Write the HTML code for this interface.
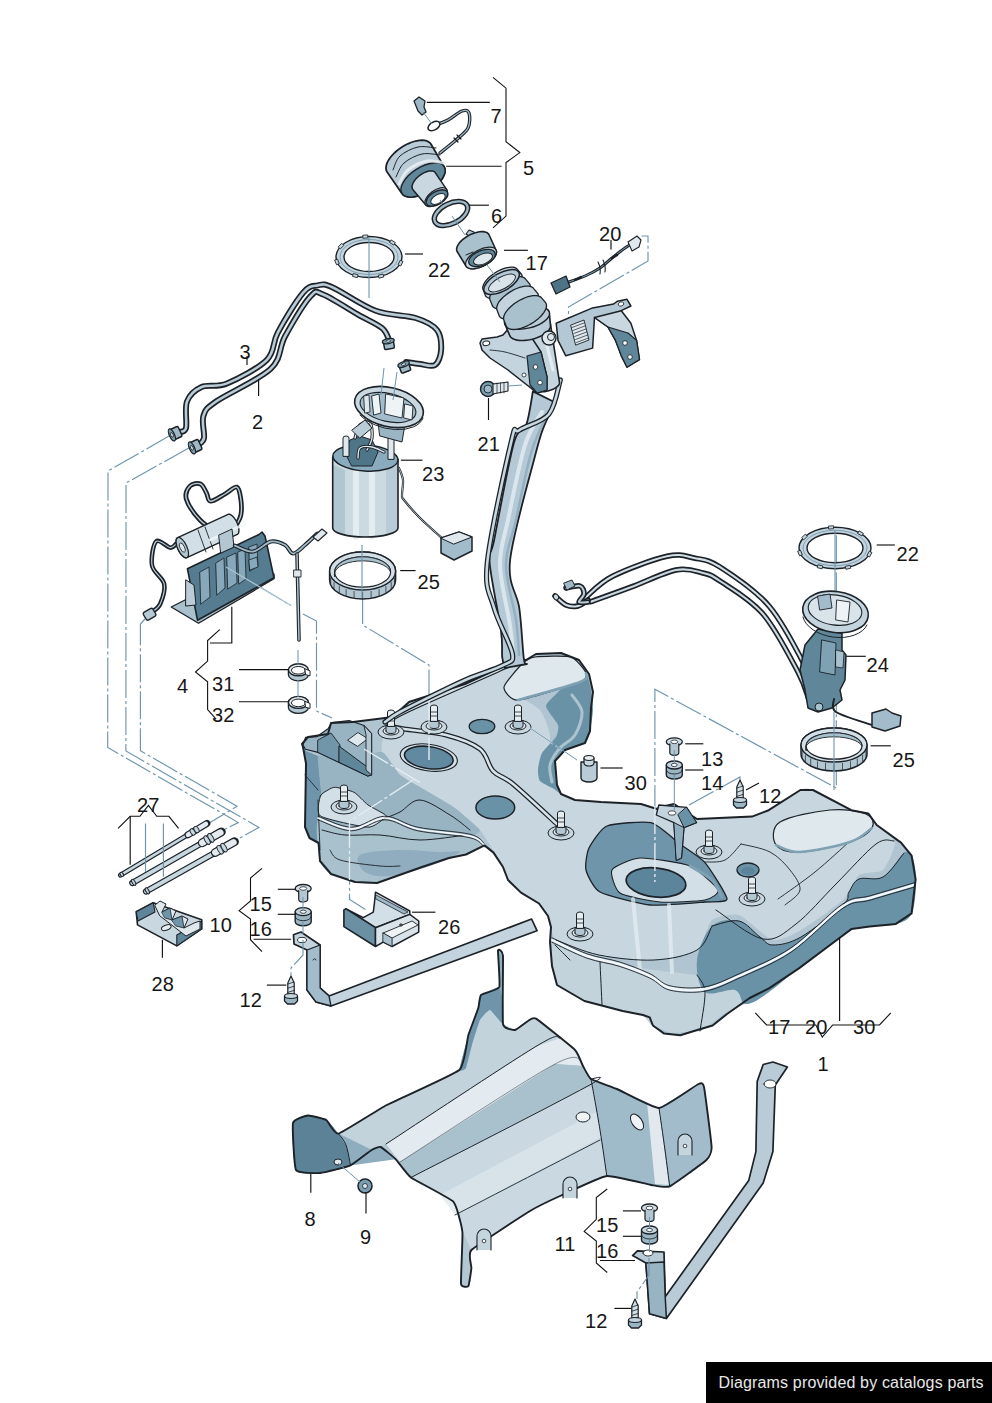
<!DOCTYPE html>
<html><head><meta charset="utf-8"><style>
html,body{margin:0;padding:0;background:#fff;}
body{width:992px;height:1403px;overflow:hidden;position:relative;}
svg{position:absolute;left:0;top:0;}
text{font-family:"Liberation Sans",sans-serif;fill:#161616;}
.foot{position:absolute;left:706px;top:1362px;width:286px;height:41px;background:#000;color:#e8e8e8;font-family:"Liberation Sans",sans-serif;font-size:16px;line-height:41px;text-indent:12.5px;letter-spacing:0.16px;white-space:nowrap;}
</style></head><body>
<svg width="992" height="1403" viewBox="0 0 992 1403">
<polyline points="170.8,435.0 108.0,471.0 107.7,747.5 238.3,822.6 222.0,830.7" fill="none" stroke="#6d95ab" stroke-width="1.15" stroke-dasharray="28 3 3 3"/>
<polyline points="188.8,448.0 126.0,483.0 125.9,751.0 258.9,827.5 234.8,840.7" fill="none" stroke="#6d95ab" stroke-width="1.15" stroke-dasharray="28 3 3 3"/>
<polyline points="145.0,619.0 140.4,624.0 140.4,750.7 237.1,806.3 208.4,823.5" fill="none" stroke="#6d95ab" stroke-width="1.15" stroke-dasharray="28 3 3 3"/>
<polyline points="226.0,567.0 291.0,605.5" fill="none" stroke="#6d95ab" stroke-width="1.15" stroke-dasharray="28 3 3 3"/>
<polyline points="303.0,614.0 316.5,621.0 316.5,711.0 332.0,718.0" fill="none" stroke="#6d95ab" stroke-width="1.15" stroke-dasharray="28 3 3 3"/>
<polyline points="362.6,596.0 362.6,625.0 429.0,665.0 429.0,760.0" fill="none" stroke="#6d95ab" stroke-width="1.15" stroke-dasharray="28 3 3 3"/>
<polyline points="568.5,345.0 568.5,307.0 648.0,261.0 648.0,236.0 641.6,236.0" fill="none" stroke="#6d95ab" stroke-width="1.15" stroke-dasharray="28 3 3 3"/>
<polyline points="654.9,850.0 654.9,689.3 836.3,788.1 836.3,532.0" fill="none" stroke="#6d95ab" stroke-width="1.15" stroke-dasharray="28 3 3 3"/>
<polyline points="364.0,749.0 420.0,782.6" fill="none" stroke="#6d95ab" stroke-width="1.15" stroke-dasharray="28 3 3 3"/>
<polyline points="413.0,780.0 349.5,821.6 349.5,899.4 365.5,909.4" fill="none" stroke="#6d95ab" stroke-width="1.15" stroke-dasharray="28 3 3 3"/>
<polyline points="689.0,805.0 740.0,777.0 740.0,782.0" fill="none" stroke="#6d95ab" stroke-width="1.15" stroke-dasharray="28 3 3 3"/>
<path d="M302.0 744.0 L308.0 737.0 L328.0 734.0 L331.0 723.0 L353.0 722.0 L393.0 717.0 L409.0 702.0 L465.0 684.0 L506.0 665.0 L526.0 660.0 L536.0 654.0 L561.0 653.0 L579.0 660.0 L589.0 674.0 L593.0 692.0 L591.0 708.0 L590.0 731.0 L585.0 743.0 L565.0 750.0 L555.0 761.0 L557.0 785.0 L561.0 794.0 L575.0 800.0 L601.0 802.0 L641.0 804.0 L657.0 809.0 L661.0 807.0 L674.0 804.0 L697.0 819.0 L752.0 816.6 L768.7 810.2 L800.4 790.0 L813.0 790.0 L851.3 810.2 L868.2 813.4 L876.7 825.0 L901.0 842.6 L911.6 855.7 L915.6 879.3 L911.6 913.4 L895.9 923.9 L869.7 926.5 L851.3 929.1 L840.8 937.0 L798.9 968.4 L769.0 988.4 L749.7 998.0 L727.0 1014.0 L712.6 1025.5 L696.5 1030.3 L680.3 1035.2 L664.2 1033.6 L652.9 1025.5 L649.7 1017.4 L643.0 1015.0 L622.7 1011.0 L584.4 1001.0 L557.0 985.0 L552.0 966.0 L550.0 942.0 L551.0 927.0 L548.0 916.0 L539.0 903.5 L521.0 892.6 L508.0 880.0 L503.0 867.0 L493.5 852.6 L484.5 845.4 L466.0 854.5 L449.0 858.0 L422.0 867.0 L377.0 883.0 L355.0 882.0 L331.0 874.0 L320.0 861.0 L318.6 843.0 L309.5 838.0 L305.0 827.0 L306.0 763.5 L303.0 747.0Z" fill="#b0c5d1" stroke="none" stroke-width="1.6" stroke-linejoin="round" stroke-linecap="round" />
<path d="M552.0 944.0 L599.0 962.0 L654.0 970.0 L697.0 975.0 L740.0 975.0 L765.0 995.0 L725.0 1013.0 L701.0 1031.0 L671.0 1033.0 L651.0 1025.0 L643.0 1015.0 L622.7 1011.0 L584.4 1001.0 L557.0 985.0 L552.0 966.0Z" fill="#c3d3dc" stroke="none" stroke-width="1.6" stroke-linejoin="round" stroke-linecap="round" />
<path d="M712.0 926.0 C719.0 919.5 731.0 919.2 739.0 921.0 C747.0 922.8 754.3 933.0 760.0 937.0 C765.7 941.0 766.2 945.0 773.0 945.0 C779.8 945.0 789.3 943.7 801.0 937.0 C812.7 930.3 835.0 912.5 843.0 905.0 C851.0 897.5 846.3 896.3 849.0 892.0 C851.7 887.7 853.3 881.5 859.0 879.0 C864.7 876.5 875.5 881.3 883.0 877.0 C890.5 872.7 899.2 856.5 904.0 853.0 C908.8 849.5 910.0 851.7 912.0 856.0 C914.0 860.3 916.0 869.5 916.0 879.0 C916.0 888.5 915.3 905.5 912.0 913.0 C908.7 920.5 903.0 921.8 896.0 924.0 C889.0 926.2 877.5 925.7 870.0 926.5 C862.5 927.3 855.8 927.2 851.0 929.0 C846.2 930.8 849.7 930.5 841.0 937.0 C832.3 943.5 811.7 958.3 799.0 968.0 C786.3 977.7 774.0 989.0 765.0 995.0 C756.0 1001.0 750.0 1004.8 745.0 1004.0 C740.0 1003.2 741.7 992.0 735.0 990.0 C728.3 988.0 711.3 997.0 705.0 992.0 C698.7 987.0 695.8 971.0 697.0 960.0 C698.2 949.0 705.0 932.5 712.0 926.0Z" fill="#6a92a7" stroke="none" stroke-width="1.6" stroke-linejoin="round" stroke-linecap="round" />
<path d="M392.0 716.0 C394.4 713.2 401.7 705.2 409.0 702.0 C416.3 698.8 455.3 687.7 465.0 684.0 C474.7 680.3 500.5 667.0 506.0 665.0 C511.5 663.0 519.4 661.5 520.0 664.0 C520.6 666.5 510.0 685.4 512.0 690.0 C514.0 694.6 536.2 705.5 540.0 710.0 C543.8 714.5 549.2 730.0 550.0 735.0 C550.8 740.0 547.3 755.0 548.0 760.0 C548.7 765.0 555.7 781.6 557.0 785.0 C558.3 788.4 559.2 792.5 561.0 794.0 C562.8 795.5 571.0 799.2 575.0 800.0 C579.0 800.8 594.4 801.6 601.0 802.0 C607.6 802.4 635.4 803.3 641.0 804.0 C646.6 804.7 653.7 809.0 657.0 809.0 C660.3 809.0 670.0 803.0 674.0 804.0 C678.0 805.0 689.2 817.7 697.0 819.0 C704.8 820.3 744.8 817.9 752.0 817.0 C759.2 816.1 764.2 812.7 769.0 810.0 C773.8 807.3 795.6 792.0 800.0 790.0 C804.4 788.0 807.9 788.0 813.0 790.0 C818.1 792.0 845.5 807.7 851.0 810.0 C856.5 812.3 865.4 811.5 868.0 813.0 C870.6 814.5 874.3 822.1 877.0 825.0 C879.7 827.9 894.4 837.5 895.0 842.0 C895.6 846.5 886.6 866.7 883.0 870.0 C879.4 873.3 863.0 872.0 859.0 875.0 C855.0 878.0 848.8 894.5 843.0 900.0 C837.2 905.5 808.0 926.0 801.0 930.0 C794.0 934.0 779.2 941.5 773.0 940.0 C766.8 938.5 745.1 917.0 739.0 915.0 C732.9 913.0 716.2 916.5 712.0 920.0 C707.8 923.5 702.8 946.0 697.0 950.0 C691.2 954.0 663.8 959.5 654.0 960.0 C644.2 960.5 608.8 957.0 599.0 955.0 C589.2 953.0 561.1 943.9 556.0 940.0 C550.9 936.1 549.7 919.7 548.0 916.0 C546.3 912.3 541.7 905.4 539.0 903.0 C536.3 900.6 524.1 894.3 521.0 892.0 C517.9 889.7 509.8 882.5 508.0 880.0 C506.2 877.5 504.4 869.8 503.0 867.0 C501.6 864.2 496.3 855.7 494.0 852.0 C491.7 848.3 483.9 834.4 480.0 830.0 C476.1 825.6 460.5 812.0 455.0 808.0 C449.5 804.0 430.5 793.3 425.0 790.0 C419.5 786.7 404.3 778.8 400.0 775.0 C395.7 771.2 383.5 756.5 382.0 752.0 C380.5 747.5 384.0 733.6 385.0 730.0 C386.0 726.4 389.6 718.8 392.0 716.0Z" fill="#c8d7df" stroke="none" stroke-width="1.6" stroke-linejoin="round" stroke-linecap="round" />
<path d="M303.0 747.0 L306.0 751.0 L318.0 756.0 L322.0 800.0 L318.0 843.0 L309.5 838.0 L305.0 827.0 L306.0 763.5Z" fill="#6f95aa" stroke="none" stroke-width="1.6" stroke-linejoin="round" stroke-linecap="round" />
<path d="M318.0 756.0 C319.0 753.3 332.7 760.3 337.0 760.0 C341.3 759.7 377.8 751.0 382.0 752.0 C386.2 753.0 397.1 772.5 400.0 775.0 C402.9 777.5 421.3 787.8 425.0 790.0 C428.7 792.2 451.3 805.3 455.0 808.0 C458.7 810.7 479.0 828.1 480.0 830.0 C481.0 831.9 474.0 835.9 470.0 836.0 C466.0 836.1 426.0 832.5 420.0 832.0 C414.0 831.5 385.0 828.4 380.0 828.0 C375.0 827.6 348.9 825.9 345.0 826.0 C341.1 826.1 323.5 831.7 322.0 830.0 C320.5 828.3 322.3 804.9 322.0 800.0 C321.7 795.1 317.0 758.7 318.0 756.0Z" fill="#98b4c3" stroke="none" stroke-width="1.6" stroke-linejoin="round" stroke-linecap="round" />
<path d="M303.0 745.0 L305.5 737.4 L316.7 736.8 L328.0 728.7 L331.7 722.5 L349.1 720.6 L364.1 725.6 L371.6 733.7 L371.6 774.9 L367.8 776.1 L339.2 762.4 L318.0 752.4 L305.5 749.3Z" fill="#98b4c3" stroke="#1c2228" stroke-width="1.1" stroke-linejoin="round" stroke-linecap="round" />
<path d="M318.0 740.0 L331.0 733.0 L340.0 745.0 L339.2 762.4 L318.0 752.4Z" fill="#7195a9" stroke="#1c2228" stroke-width="0.9" stroke-linejoin="round" stroke-linecap="round" />
<path d="M339.2 746.2 L367.8 767.4 L371.6 774.9 L367.8 776.1 L339.2 762.4Z" fill="#5f8699" stroke="#1c2228" stroke-width="1" stroke-linejoin="round" stroke-linecap="round" />
<path d="M347.9 740.0 L357.9 732.5 L367.8 738.7 L357.9 746.2Z" fill="#dfe8ed" stroke="#1c2228" stroke-width="0.9" stroke-linejoin="round" stroke-linecap="round" />
<path d="M364.1 725.6 L371.6 733.7 L371.6 774.9 L366.0 770.0 L366.0 735.0Z" fill="#b3c7d3" stroke="#1c2228" stroke-width="0.9" stroke-linejoin="round" stroke-linecap="round" />
<path d="M318.0 820.0 C321.2 817.0 344.9 831.0 351.6 831.0 C358.3 831.0 378.4 820.0 385.0 820.0 C391.6 820.0 409.2 829.2 417.7 831.0 C426.2 832.8 463.4 836.6 470.0 838.0 C476.6 839.4 484.4 843.4 484.0 845.0 C483.6 846.6 469.5 853.2 466.0 854.5 C462.5 855.8 453.4 856.8 449.0 858.0 C444.6 859.2 429.2 864.5 422.0 867.0 C414.8 869.5 383.7 881.5 377.0 883.0 C370.3 884.5 359.6 882.9 355.0 882.0 C350.4 881.1 334.5 876.1 331.0 874.0 C327.5 871.9 321.3 866.4 320.0 861.0 C318.7 855.6 314.8 823.0 318.0 820.0Z" fill="#a9c0cd" stroke="none" stroke-width="1.6" stroke-linejoin="round" stroke-linecap="round" />
<path d="M360.0 855.0 C365.8 851.3 386.7 850.5 400.0 850.0 C413.3 849.5 430.0 851.7 440.0 852.0 C450.0 852.3 461.7 849.7 460.0 852.0 C458.3 854.3 441.7 862.0 430.0 866.0 C418.3 870.0 400.8 875.0 390.0 876.0 C379.2 877.0 370.0 875.5 365.0 872.0 C360.0 868.5 354.2 858.7 360.0 855.0Z" fill="#8fadbe" stroke="none" stroke-width="1.6" stroke-linejoin="round" stroke-linecap="round" />
<path d="M320.4 796.0 C321.2 793.4 326.5 790.9 328.0 790.0 C329.5 789.1 332.8 787.1 335.4 787.3 C338.0 787.5 350.8 790.5 354.0 792.3 C357.2 794.0 364.7 802.5 367.8 804.8 C370.9 807.0 383.7 813.4 385.3 814.8 C386.9 816.2 385.8 817.3 384.0 818.5 C382.2 819.7 374.2 827.5 367.8 827.2 C361.4 827.0 325.1 819.1 320.4 816.0 C315.7 812.9 319.6 798.6 320.4 796.0Z" fill="#d3dfe6" stroke="#1c2228" stroke-width="1" stroke-linejoin="round" stroke-linecap="round" />
<path d="M384.0 818.5 C386.7 817.4 394.0 815.1 400.0 812.0 C406.0 808.9 411.7 799.5 420.0 800.0 C428.3 800.5 441.7 810.0 450.0 815.0 C458.3 820.0 466.7 827.5 470.0 830.0" fill="none" stroke="#1c2228" stroke-width="1" stroke-linejoin="round" stroke-linecap="round" />
<path d="M305.0 775.0 C307.2 777.5 315.8 787.5 318.0 790.0" fill="none" stroke="#1c2228" stroke-width="0.9" stroke-linejoin="round" stroke-linecap="round" />
<path d="M318.0 800.0 C318.3 808.3 319.7 841.7 320.0 850.0" fill="none" stroke="#1c2228" stroke-width="0.9" stroke-linejoin="round" stroke-linecap="round" />
<path d="M330.0 850.0 C331.7 851.7 331.7 857.3 340.0 860.0 C348.3 862.7 370.0 865.0 380.0 866.0 C390.0 867.0 396.7 866.0 400.0 866.0" fill="none" stroke="#1c2228" stroke-width="0.9" stroke-linejoin="round" stroke-linecap="round" />
<path d="M575.0 672.0 C577.6 670.3 584.4 671.2 586.0 673.0 C587.6 674.8 590.3 686.3 591.0 690.0 C591.7 693.7 593.1 705.9 593.0 710.0 C592.9 714.1 590.8 727.7 590.0 731.0 C589.2 734.3 587.5 741.1 585.0 743.0 C582.5 744.9 568.0 748.2 565.0 750.0 C562.0 751.8 555.8 757.5 555.0 761.0 C554.2 764.5 556.4 781.7 557.0 785.0 C557.6 788.3 561.3 793.6 561.0 794.0 C560.7 794.4 556.1 790.3 554.0 789.0 C551.9 787.7 541.6 783.0 540.0 781.0 C538.4 779.0 537.8 771.8 538.0 769.0 C538.2 766.2 540.2 756.2 542.0 753.0 C543.8 749.8 554.4 739.8 556.0 737.0 C557.6 734.2 559.0 728.1 558.0 725.0 C557.0 721.9 545.8 709.5 546.0 706.0 C546.2 702.5 557.1 693.4 560.0 690.0 C562.9 686.6 572.4 673.7 575.0 672.0Z" fill="#6a92a7" stroke="none" stroke-width="1.6" stroke-linejoin="round" stroke-linecap="round" />
<path d="M572.0 695.0 C573.7 697.8 581.5 705.3 582.0 712.0 C582.5 718.7 578.7 729.0 575.0 735.0 C571.3 741.0 564.2 743.0 560.0 748.0 C555.8 753.0 551.3 759.3 550.0 765.0 C548.7 770.7 551.7 779.2 552.0 782.0" fill="none" stroke="#c9d8e0" stroke-width="3" stroke-linejoin="round" stroke-linecap="round" opacity="0.7"/>
<path d="M504.0 687.0 C504.4 683.4 518.9 667.0 522.0 664.0 C525.1 661.0 530.1 657.7 535.0 657.0 C539.9 656.3 565.9 655.4 571.0 657.0 C576.1 658.6 585.1 670.5 586.0 673.0 C586.9 675.5 586.8 679.3 580.0 682.0 C573.2 684.7 525.6 699.5 518.0 700.0 C510.4 700.5 503.6 690.6 504.0 687.0Z" fill="#dfe8ed" stroke="#1c2228" stroke-width="1.2" stroke-linejoin="round" stroke-linecap="round" />
<path d="M518.0 700.0 C528.3 697.0 568.7 686.5 580.0 682.0 C591.3 677.5 585.0 674.5 586.0 673.0" fill="none" stroke="#7fa1b4" stroke-width="2.5" stroke-linejoin="round" stroke-linecap="round" />
<path d="M504.0 640.0 C505.5 643.3 513.7 655.2 513.0 660.0 C512.3 664.8 518.5 660.2 500.0 669.0 C481.5 677.8 420.5 703.8 402.0 713.0 C383.5 722.2 391.2 722.2 389.0 724.0" fill="none" stroke="#1c2228" stroke-width="5" stroke-linejoin="round" stroke-linecap="round" />
<path d="M504.0 640.0 C505.5 643.3 513.7 655.2 513.0 660.0 C512.3 664.8 518.5 660.2 500.0 669.0 C481.5 677.8 420.5 703.8 402.0 713.0 C383.5 722.2 391.2 722.2 389.0 724.0" fill="none" stroke="#d3dfe6" stroke-width="2.6" stroke-linejoin="round" stroke-linecap="round" />
<path d="M389.0 726.0 C391.5 726.5 394.5 727.5 404.0 729.0 C413.5 730.5 433.3 731.7 446.0 735.0 C458.7 738.3 472.2 743.0 480.0 749.0 C487.8 755.0 487.5 765.2 493.0 771.0 C498.5 776.8 502.3 775.2 513.0 784.0 C523.7 792.8 549.7 817.3 557.0 824.0" fill="none" stroke="#1c2228" stroke-width="5" stroke-linejoin="round" stroke-linecap="round" />
<path d="M389.0 726.0 C391.5 726.5 394.5 727.5 404.0 729.0 C413.5 730.5 433.3 731.7 446.0 735.0 C458.7 738.3 472.2 743.0 480.0 749.0 C487.8 755.0 487.5 765.2 493.0 771.0 C498.5 776.8 502.3 775.2 513.0 784.0 C523.7 792.8 549.7 817.3 557.0 824.0" fill="none" stroke="#d9e4ea" stroke-width="2.6" stroke-linejoin="round" stroke-linecap="round" />
<ellipse cx="428.8" cy="757.6" rx="28.8" ry="13.3" transform="rotate(8.0 428.8 757.6)" fill="#d3dfe6" stroke="#1c2228" stroke-width="1.1"/>
<ellipse cx="428.8" cy="757.6" rx="24.5" ry="11.0" transform="rotate(8.0 428.8 757.6)" fill="#6189a0" stroke="#1c2228" stroke-width="1.6"/>
<ellipse cx="495.3" cy="807.5" rx="19.4" ry="11.6" transform="rotate(0.0 495.3 807.5)" fill="#6a92a7" stroke="#1c2228" stroke-width="1.5"/>
<ellipse cx="482.0" cy="726.5" rx="12.8" ry="7.2" transform="rotate(0.0 482.0 726.5)" fill="#6a92a7" stroke="#1c2228" stroke-width="1.3"/>
<path d="M589.0 848.0 C591.1 843.6 600.8 828.5 607.0 826.0 C613.2 823.5 643.7 820.9 651.0 822.7 C658.3 824.5 674.6 840.0 680.0 844.0 C685.4 848.0 700.3 857.1 705.0 862.6 C709.7 868.1 727.0 895.1 727.0 899.0 C727.0 902.9 712.7 901.4 705.0 902.0 C697.3 902.6 660.5 906.0 650.0 905.0 C639.5 904.0 606.4 895.5 600.0 892.0 C593.6 888.5 587.1 874.4 586.0 870.0 C584.9 865.6 586.9 852.4 589.0 848.0Z" fill="#6f95aa" stroke="#1c2228" stroke-width="1.3" stroke-linejoin="round" stroke-linecap="round" />
<path d="M612.0 870.0 C614.0 866.5 632.2 858.4 640.0 858.0 C647.8 857.6 682.2 862.8 690.0 866.0 C697.8 869.2 716.5 886.6 718.0 890.0 C719.5 893.4 710.8 898.8 705.0 900.0 C699.2 901.2 668.5 902.7 660.0 902.0 C651.5 901.3 624.8 896.2 620.0 893.0 C615.2 889.8 610.0 873.5 612.0 870.0Z" fill="#d3dfe6" stroke="#1c2228" stroke-width="1.1" stroke-linejoin="round" stroke-linecap="round" />
<path d="M690.0 866.0 C693.7 868.3 706.7 874.8 712.0 880.0 C717.3 885.2 720.3 894.2 722.0 897.0" fill="none" stroke="#7fa1b4" stroke-width="3" stroke-linejoin="round" stroke-linecap="round" />
<ellipse cx="656.0" cy="882.5" rx="30.0" ry="14.5" transform="rotate(6.0 656.0 882.5)" fill="#5c859c" stroke="#1c2228" stroke-width="1.7"/>
<ellipse cx="748.0" cy="870.0" rx="11.0" ry="7.0" transform="rotate(0.0 748.0 870.0)" fill="#6a92a7" stroke="#1c2228" stroke-width="1.3"/>
<ellipse cx="748.0" cy="871.0" rx="7.0" ry="4.0" transform="rotate(0.0 748.0 871.0)" fill="#5c859c" stroke="none" stroke-width="0.0"/>
<path d="M716.0 910.0 C723.8 914.8 749.7 936.7 763.0 939.0 C776.3 941.3 783.8 933.2 796.0 924.0 C808.2 914.8 822.7 897.3 836.0 884.0 C849.3 870.7 866.3 851.2 876.0 844.0 C885.7 836.8 891.0 841.5 894.0 841.0" fill="none" stroke="#1c2228" stroke-width="1" stroke-linejoin="round" stroke-linecap="round" />
<path d="M778.0 899.0 C784.2 894.5 803.0 881.7 815.0 872.0 C827.0 862.3 844.2 846.2 850.0 841.0" fill="none" stroke="#1c2228" stroke-width="0.9" stroke-linejoin="round" stroke-linecap="round" />
<path d="M741.0 844.0 C745.8 845.3 761.8 847.7 770.0 852.0 C778.2 856.3 785.0 863.7 790.0 870.0 C795.0 876.3 800.8 884.2 800.0 890.0 C799.2 895.8 787.5 902.5 785.0 905.0" fill="none" stroke="#1c2228" stroke-width="0.9" stroke-linejoin="round" stroke-linecap="round" />
<path d="M705.0 862.0 C708.3 861.7 719.0 863.0 725.0 860.0 C731.0 857.0 738.3 846.7 741.0 844.0" fill="none" stroke="#1c2228" stroke-width="0.9" stroke-linejoin="round" stroke-linecap="round" />
<path d="M633 899 L640 970 M669 905 L672 972" fill="none" stroke="#e6eef2" stroke-width="4" stroke-linejoin="round" stroke-linecap="round" opacity="0.7"/>
<path d="M780.0 822.0 C789.0 816.2 815.7 811.3 830.0 810.0 C844.3 808.7 859.0 811.0 866.0 814.0 C873.0 817.0 874.7 823.3 872.0 828.0 C869.3 832.7 862.0 838.0 850.0 842.0 C838.0 846.0 812.3 851.5 800.0 852.0 C787.7 852.5 779.3 850.0 776.0 845.0 C772.7 840.0 771.0 827.8 780.0 822.0Z" fill="#dfe8ed" stroke="#1c2228" stroke-width="1.2" stroke-linejoin="round" stroke-linecap="round" />
<path d="M776.0 845.0 C780.0 846.2 787.7 852.5 800.0 852.0 C812.3 851.5 838.0 846.0 850.0 842.0 C862.0 838.0 868.3 830.3 872.0 828.0" fill="none" stroke="#7fa1b4" stroke-width="2.5" stroke-linejoin="round" stroke-linecap="round" />
<path d="M712.0 926.0 C716.5 925.2 731.0 919.2 739.0 921.0 C747.0 922.8 754.3 933.0 760.0 937.0 C765.7 941.0 766.2 945.0 773.0 945.0 C779.8 945.0 789.3 943.7 801.0 937.0 C812.7 930.3 835.0 912.5 843.0 905.0 C851.0 897.5 846.3 896.3 849.0 892.0 C851.7 887.7 853.3 881.5 859.0 879.0 C864.7 876.5 875.5 881.3 883.0 877.0 C890.5 872.7 900.5 857.0 904.0 853.0" fill="none" stroke="#1c2228" stroke-width="1" stroke-linejoin="round" stroke-linecap="round" />
<path d="M556.0 940.0 C563.2 942.5 582.7 951.7 599.0 955.0 C615.3 958.3 637.7 960.8 654.0 960.0 C670.3 959.2 687.3 955.7 697.0 950.0 C706.7 944.3 709.5 930.0 712.0 926.0" fill="none" stroke="#1c2228" stroke-width="1" stroke-linejoin="round" stroke-linecap="round" />
<path d="M322.0 830.0 C325.8 830.8 335.3 834.2 345.0 835.0 C354.7 835.8 367.5 834.2 380.0 835.0 C392.5 835.8 405.7 840.0 420.0 840.0 C434.3 840.0 458.3 835.8 466.0 835.0" fill="none" stroke="#1c2228" stroke-width="1" stroke-linejoin="round" stroke-linecap="round" />
<path d="M697.0 975.0 C698.3 977.8 704.5 982.7 705.0 992.0 C705.5 1001.3 700.8 1024.5 700.0 1031.0" fill="none" stroke="#1c2228" stroke-width="1" stroke-linejoin="round" stroke-linecap="round" />
<path d="M600.0 962.0 C600.3 969.2 601.7 997.8 602.0 1005.0" fill="none" stroke="#1c2228" stroke-width="1" stroke-linejoin="round" stroke-linecap="round" />
<path d="M555.0 945.0 C557.5 947.5 567.5 957.5 570.0 960.0" fill="none" stroke="#1c2228" stroke-width="1" stroke-linejoin="round" stroke-linecap="round" />
<path d="M552.0 940.0 C557.8 942.7 575.8 952.0 587.0 956.0 C598.2 960.0 608.5 960.7 619.0 964.0 C629.5 967.3 641.5 972.0 650.0 976.0 C658.5 980.0 660.8 985.8 670.0 988.0 C679.2 990.2 693.5 991.0 705.0 989.0 C716.5 987.0 724.7 982.5 739.0 976.0 C753.3 969.5 773.7 961.7 791.0 950.0 C808.3 938.3 829.8 914.7 843.0 906.0 C856.2 897.3 858.2 901.5 870.0 898.0 C881.8 894.5 906.7 887.2 914.0 885.0" fill="none" stroke="#f4f8fa" stroke-width="2.4" stroke-linejoin="round" stroke-linecap="round" />
<path d="M552.0 937.8 C557.8 940.5 575.8 949.8 587.0 953.8 C598.2 957.8 608.5 958.5 619.0 961.8 C629.5 965.1 641.5 969.8 650.0 973.8 C658.5 977.8 660.8 983.6 670.0 985.8 C679.2 988.0 693.5 988.8 705.0 986.8 C716.5 984.8 724.7 980.3 739.0 973.8 C753.3 967.3 773.7 959.5 791.0 947.8 C808.3 936.1 829.8 912.5 843.0 903.8 C856.2 895.1 858.2 899.3 870.0 895.8 C881.8 892.3 906.7 885.0 914.0 882.8" fill="none" stroke="#1c2228" stroke-width="0.9" stroke-linejoin="round" stroke-linecap="round" />
<path d="M552.0 942.2 C557.8 944.9 575.8 954.2 587.0 958.2 C598.2 962.2 608.5 962.9 619.0 966.2 C629.5 969.5 641.5 974.2 650.0 978.2 C658.5 982.2 660.8 988.0 670.0 990.2 C679.2 992.4 693.5 993.2 705.0 991.2 C716.5 989.2 724.7 984.7 739.0 978.2 C753.3 971.7 773.7 963.9 791.0 952.2 C808.3 940.5 829.8 916.9 843.0 908.2 C856.2 899.5 858.2 903.7 870.0 900.2 C881.8 896.7 906.7 889.4 914.0 887.2" fill="none" stroke="#1c2228" stroke-width="0.9" stroke-linejoin="round" stroke-linecap="round" />
<path d="M318.0 818.0 C323.6 819.8 340.4 829.0 351.6 829.0 C362.8 829.0 374.0 818.0 385.0 818.0 C396.0 818.0 403.5 826.0 417.7 829.0 C431.9 832.0 458.9 833.3 470.0 836.0 C481.1 838.7 481.7 843.5 484.0 845.0" fill="none" stroke="#f4f8fa" stroke-width="1.6" stroke-linejoin="round" stroke-linecap="round" />
<path d="M318.0 816.2 C323.6 818.0 340.4 827.2 351.6 827.2 C362.8 827.2 374.0 816.2 385.0 816.2 C396.0 816.2 403.5 824.2 417.7 827.2 C431.9 830.2 458.9 831.5 470.0 834.2 C481.1 836.9 481.7 841.7 484.0 843.2" fill="none" stroke="#1c2228" stroke-width="0.9" stroke-linejoin="round" stroke-linecap="round" />
<path d="M318.0 819.8 C323.6 821.6 340.4 830.8 351.6 830.8 C362.8 830.8 374.0 819.8 385.0 819.8 C396.0 819.8 403.5 827.8 417.7 830.8 C431.9 833.8 458.9 835.1 470.0 837.8 C481.1 840.5 481.7 845.3 484.0 846.8" fill="none" stroke="#1c2228" stroke-width="0.9" stroke-linejoin="round" stroke-linecap="round" />
<path d="M302.0 744.0 L308.0 737.0 L328.0 734.0 L331.0 723.0 L353.0 722.0 L393.0 717.0 L409.0 702.0 L465.0 684.0 L506.0 665.0 L526.0 660.0 L536.0 654.0 L561.0 653.0 L579.0 660.0 L589.0 674.0 L593.0 692.0 L591.0 708.0 L590.0 731.0 L585.0 743.0 L565.0 750.0 L555.0 761.0 L557.0 785.0 L561.0 794.0 L575.0 800.0 L601.0 802.0 L641.0 804.0 L657.0 809.0 L661.0 807.0 L674.0 804.0 L697.0 819.0 L752.0 816.6 L768.7 810.2 L800.4 790.0 L813.0 790.0 L851.3 810.2 L868.2 813.4 L876.7 825.0 L901.0 842.6 L911.6 855.7 L915.6 879.3 L911.6 913.4 L895.9 923.9 L869.7 926.5 L851.3 929.1 L840.8 937.0 L798.9 968.4 L769.0 988.4 L749.7 998.0 L727.0 1014.0 L712.6 1025.5 L696.5 1030.3 L680.3 1035.2 L664.2 1033.6 L652.9 1025.5 L649.7 1017.4 L643.0 1015.0 L622.7 1011.0 L584.4 1001.0 L557.0 985.0 L552.0 966.0 L550.0 942.0 L551.0 927.0 L548.0 916.0 L539.0 903.5 L521.0 892.6 L508.0 880.0 L503.0 867.0 L493.5 852.6 L484.5 845.4 L466.0 854.5 L449.0 858.0 L422.0 867.0 L377.0 883.0 L355.0 882.0 L331.0 874.0 L320.0 861.0 L318.6 843.0 L309.5 838.0 L305.0 827.0 L306.0 763.5 L303.0 747.0Z" fill="none" stroke="#1c2228" stroke-width="2" stroke-linejoin="round" stroke-linecap="round" />
<ellipse cx="344.0" cy="807.0" rx="13.0" ry="7.0" transform="rotate(0.0 344.0 807.0)" fill="#c9d8e0" stroke="#1c2228" stroke-width="1.0"/>
<ellipse cx="344.0" cy="806.0" rx="8.0" ry="4.0" transform="rotate(0.0 344.0 806.0)" fill="#e6eef2" stroke="#1c2228" stroke-width="1.0"/>
<path d="M339.0 806.0 v-5 h10 v5 a5 2.5 0 0 1 -10 0Z" fill="#b3c7d3" stroke="#1c2228" stroke-width="1.0" stroke-linejoin="round" stroke-linecap="round" />
<path d="M340.5 801.0 v-14 a3.5 2 0 0 1 7 0 v14Z" fill="#e6eef2" stroke="#1c2228" stroke-width="1.0" stroke-linejoin="round" stroke-linecap="round" />
<path d="M340.5 796.0 h7 M340.5 792.0 h7" fill="none" stroke="#1c2228" stroke-width="0.8" stroke-linejoin="round" stroke-linecap="round" />
<ellipse cx="434.0" cy="727.0" rx="13.0" ry="7.0" transform="rotate(0.0 434.0 727.0)" fill="#c9d8e0" stroke="#1c2228" stroke-width="1.0"/>
<ellipse cx="434.0" cy="726.0" rx="8.0" ry="4.0" transform="rotate(0.0 434.0 726.0)" fill="#e6eef2" stroke="#1c2228" stroke-width="1.0"/>
<path d="M429.0 726.0 v-5 h10 v5 a5 2.5 0 0 1 -10 0Z" fill="#b3c7d3" stroke="#1c2228" stroke-width="1.0" stroke-linejoin="round" stroke-linecap="round" />
<path d="M430.5 721.0 v-14 a3.5 2 0 0 1 7 0 v14Z" fill="#e6eef2" stroke="#1c2228" stroke-width="1.0" stroke-linejoin="round" stroke-linecap="round" />
<path d="M430.5 716.0 h7 M430.5 712.0 h7" fill="none" stroke="#1c2228" stroke-width="0.8" stroke-linejoin="round" stroke-linecap="round" />
<ellipse cx="518.0" cy="727.0" rx="13.0" ry="7.0" transform="rotate(0.0 518.0 727.0)" fill="#c9d8e0" stroke="#1c2228" stroke-width="1.0"/>
<ellipse cx="518.0" cy="726.0" rx="8.0" ry="4.0" transform="rotate(0.0 518.0 726.0)" fill="#e6eef2" stroke="#1c2228" stroke-width="1.0"/>
<path d="M513.0 726.0 v-5 h10 v5 a5 2.5 0 0 1 -10 0Z" fill="#b3c7d3" stroke="#1c2228" stroke-width="1.0" stroke-linejoin="round" stroke-linecap="round" />
<path d="M514.5 721.0 v-14 a3.5 2 0 0 1 7 0 v14Z" fill="#e6eef2" stroke="#1c2228" stroke-width="1.0" stroke-linejoin="round" stroke-linecap="round" />
<path d="M514.5 716.0 h7 M514.5 712.0 h7" fill="none" stroke="#1c2228" stroke-width="0.8" stroke-linejoin="round" stroke-linecap="round" />
<ellipse cx="561.0" cy="833.0" rx="13.0" ry="7.0" transform="rotate(0.0 561.0 833.0)" fill="#c9d8e0" stroke="#1c2228" stroke-width="1.0"/>
<ellipse cx="561.0" cy="832.0" rx="8.0" ry="4.0" transform="rotate(0.0 561.0 832.0)" fill="#e6eef2" stroke="#1c2228" stroke-width="1.0"/>
<path d="M556.0 832.0 v-5 h10 v5 a5 2.5 0 0 1 -10 0Z" fill="#b3c7d3" stroke="#1c2228" stroke-width="1.0" stroke-linejoin="round" stroke-linecap="round" />
<path d="M557.5 827.0 v-14 a3.5 2 0 0 1 7 0 v14Z" fill="#e6eef2" stroke="#1c2228" stroke-width="1.0" stroke-linejoin="round" stroke-linecap="round" />
<path d="M557.5 822.0 h7 M557.5 818.0 h7" fill="none" stroke="#1c2228" stroke-width="0.8" stroke-linejoin="round" stroke-linecap="round" />
<ellipse cx="709.0" cy="852.0" rx="13.0" ry="7.0" transform="rotate(0.0 709.0 852.0)" fill="#c9d8e0" stroke="#1c2228" stroke-width="1.0"/>
<ellipse cx="709.0" cy="851.0" rx="8.0" ry="4.0" transform="rotate(0.0 709.0 851.0)" fill="#e6eef2" stroke="#1c2228" stroke-width="1.0"/>
<path d="M704.0 851.0 v-5 h10 v5 a5 2.5 0 0 1 -10 0Z" fill="#b3c7d3" stroke="#1c2228" stroke-width="1.0" stroke-linejoin="round" stroke-linecap="round" />
<path d="M705.5 846.0 v-14 a3.5 2 0 0 1 7 0 v14Z" fill="#e6eef2" stroke="#1c2228" stroke-width="1.0" stroke-linejoin="round" stroke-linecap="round" />
<path d="M705.5 841.0 h7 M705.5 837.0 h7" fill="none" stroke="#1c2228" stroke-width="0.8" stroke-linejoin="round" stroke-linecap="round" />
<ellipse cx="752.0" cy="899.0" rx="13.0" ry="7.0" transform="rotate(0.0 752.0 899.0)" fill="#c9d8e0" stroke="#1c2228" stroke-width="1.0"/>
<ellipse cx="752.0" cy="898.0" rx="8.0" ry="4.0" transform="rotate(0.0 752.0 898.0)" fill="#e6eef2" stroke="#1c2228" stroke-width="1.0"/>
<path d="M747.0 898.0 v-5 h10 v5 a5 2.5 0 0 1 -10 0Z" fill="#b3c7d3" stroke="#1c2228" stroke-width="1.0" stroke-linejoin="round" stroke-linecap="round" />
<path d="M748.5 893.0 v-14 a3.5 2 0 0 1 7 0 v14Z" fill="#e6eef2" stroke="#1c2228" stroke-width="1.0" stroke-linejoin="round" stroke-linecap="round" />
<path d="M748.5 888.0 h7 M748.5 884.0 h7" fill="none" stroke="#1c2228" stroke-width="0.8" stroke-linejoin="round" stroke-linecap="round" />
<ellipse cx="580.0" cy="934.0" rx="13.0" ry="7.0" transform="rotate(0.0 580.0 934.0)" fill="#c9d8e0" stroke="#1c2228" stroke-width="1.0"/>
<ellipse cx="580.0" cy="933.0" rx="8.0" ry="4.0" transform="rotate(0.0 580.0 933.0)" fill="#e6eef2" stroke="#1c2228" stroke-width="1.0"/>
<path d="M575.0 933.0 v-5 h10 v5 a5 2.5 0 0 1 -10 0Z" fill="#b3c7d3" stroke="#1c2228" stroke-width="1.0" stroke-linejoin="round" stroke-linecap="round" />
<path d="M576.5 928.0 v-14 a3.5 2 0 0 1 7 0 v14Z" fill="#e6eef2" stroke="#1c2228" stroke-width="1.0" stroke-linejoin="round" stroke-linecap="round" />
<path d="M576.5 923.0 h7 M576.5 919.0 h7" fill="none" stroke="#1c2228" stroke-width="0.8" stroke-linejoin="round" stroke-linecap="round" />
<ellipse cx="391.0" cy="732.0" rx="13.0" ry="7.0" transform="rotate(0.0 391.0 732.0)" fill="#c9d8e0" stroke="#1c2228" stroke-width="1.0"/>
<ellipse cx="391.0" cy="731.0" rx="8.0" ry="4.0" transform="rotate(0.0 391.0 731.0)" fill="#e6eef2" stroke="#1c2228" stroke-width="1.0"/>
<path d="M386.0 731.0 v-5 h10 v5 a5 2.5 0 0 1 -10 0Z" fill="#b3c7d3" stroke="#1c2228" stroke-width="1.0" stroke-linejoin="round" stroke-linecap="round" />
<path d="M387.5 726.0 v-14 a3.5 2 0 0 1 7 0 v14Z" fill="#e6eef2" stroke="#1c2228" stroke-width="1.0" stroke-linejoin="round" stroke-linecap="round" />
<path d="M387.5 721.0 h7 M387.5 717.0 h7" fill="none" stroke="#1c2228" stroke-width="0.8" stroke-linejoin="round" stroke-linecap="round" />
<polyline points="429.0,700.0 429.0,760.0" fill="none" stroke="#e2ecf1" stroke-width="1.4" stroke-dasharray="28 3 3 3"/>
<polyline points="364.0,749.0 420.0,782.6" fill="none" stroke="#e2ecf1" stroke-width="1.4" stroke-dasharray="28 3 3 3"/>
<polyline points="413.0,780.0 349.5,821.6 349.5,880.0" fill="none" stroke="#e2ecf1" stroke-width="1.4" stroke-dasharray="28 3 3 3"/>
<polyline points="654.9,806.0 654.9,882.0" fill="none" stroke="#e2ecf1" stroke-width="1.4" stroke-dasharray="28 3 3 3"/>
<polyline points="530.0,728.0 562.0,750.0" fill="none" stroke="#e2ecf1" stroke-width="1.4" stroke-dasharray="28 3 3 3"/>
<path d="M656.3 815.0 L658.8 805.0 L686.6 807.4 L696.6 822.6 L684.0 827.6 L681.5 857.8 L676.5 860.4 L674.0 822.6Z" fill="#c3d4de" stroke="#1c2228" stroke-width="1.3" stroke-linejoin="round" stroke-linecap="round" />
<path d="M674.0 822.6 L684.0 827.6 L681.5 857.8 L676.5 860.4Z" fill="#8fadbe" stroke="#1c2228" stroke-width="1" stroke-linejoin="round" stroke-linecap="round" />
<path d="M686.6 807.4 L696.6 822.6 L684.0 827.6 L678.0 815.0Z" fill="#6a92a7" stroke="#1c2228" stroke-width="1" stroke-linejoin="round" stroke-linecap="round" />
<ellipse cx="672.0" cy="813.0" rx="4.0" ry="2.2" transform="rotate(0.0 672.0 813.0)" fill="#fff" stroke="#1c2228" stroke-width="0.8"/>
<path d="M498.0 950.5 C498.2 948.4 502.7 950.8 503.0 955.7 C503.3 960.6 502.2 1019.0 503.0 1024.0 C503.8 1029.0 513.3 1030.2 515.0 1030.0 C516.7 1029.8 526.6 1021.8 528.0 1021.0 C529.4 1020.2 532.9 1016.7 536.0 1018.6 C539.1 1020.5 571.9 1046.8 575.0 1050.0 C578.1 1053.2 581.9 1064.1 583.0 1066.0 C584.1 1067.9 588.7 1077.5 591.0 1079.0 C593.3 1080.5 612.5 1087.1 617.0 1089.0 C621.5 1090.9 653.6 1108.3 659.0 1108.0 C664.4 1107.7 695.5 1085.4 698.5 1084.0 C701.5 1082.6 703.1 1082.8 704.0 1087.0 C704.9 1091.2 711.4 1142.1 711.6 1147.0 C711.8 1151.9 709.2 1157.4 706.4 1160.0 C703.6 1162.6 673.4 1184.7 669.7 1186.4 C666.0 1188.1 655.5 1185.7 651.3 1185.0 C647.1 1184.3 612.9 1175.3 606.8 1176.0 C600.7 1176.7 565.1 1193.7 560.0 1196.0 C554.9 1198.3 535.9 1207.4 530.0 1211.0 C524.1 1214.6 475.3 1246.2 471.4 1250.0 C467.5 1253.8 471.6 1265.6 471.4 1268.0 C471.2 1270.4 469.1 1284.9 468.4 1286.0 C467.7 1287.1 461.4 1287.6 461.0 1284.0 C460.6 1280.4 462.9 1237.5 462.4 1232.0 C461.9 1226.5 456.7 1205.3 453.3 1201.7 C449.9 1198.1 414.8 1180.3 411.0 1177.5 C407.2 1174.7 397.8 1161.3 395.8 1159.3 C393.8 1157.3 382.3 1147.6 380.7 1147.0 C379.1 1146.4 373.6 1148.8 371.6 1150.0 C369.6 1151.2 353.9 1163.9 350.5 1165.4 C347.1 1166.9 323.8 1172.7 320.2 1173.0 C316.6 1173.3 297.8 1173.3 296.0 1170.0 C294.2 1166.7 292.2 1126.6 293.0 1123.0 C293.8 1119.4 305.8 1115.7 308.0 1115.5 C310.2 1115.3 324.3 1118.8 326.3 1120.0 C328.3 1121.2 334.4 1134.6 338.4 1133.6 C342.4 1132.6 378.7 1109.2 386.8 1105.0 C394.9 1100.8 453.9 1074.7 459.3 1070.0 C464.7 1065.3 467.1 1039.1 468.4 1035.0 C469.7 1030.9 477.5 1010.7 478.3 1008.0 C479.1 1005.3 479.6 996.4 481.0 995.0 C482.4 993.6 498.2 990.0 499.3 987.0 C500.4 984.0 497.8 952.6 498.0 950.5Z" fill="#b3c7d3" stroke="none" stroke-width="1.6" stroke-linejoin="round" stroke-linecap="round" />
<path d="M338.4 1133.6 L386.8 1105.0 L459.3 1070.0 L468.4 1035.0 L478.3 1008.0 L481.0 995.0 L499.3 987.0 L503.0 1024.0 L515.0 1030.0 L528.0 1021.0 L536.0 1018.6 L560.0 1038.0 L535.0 1047.0 L386.0 1144.0 L372.0 1150.0Z" fill="#c3d3dc" stroke="none" stroke-width="1.6" stroke-linejoin="round" stroke-linecap="round" />
<path d="M481.0 995.0 C482.4 993.6 497.8 986.7 499.3 987.0 C500.8 987.3 502.8 997.5 503.0 1000.0 C503.2 1002.5 503.9 1023.3 503.0 1024.0 C502.1 1024.7 491.5 1010.3 490.0 1010.0 C488.5 1009.7 481.2 1017.7 480.0 1020.0 C478.8 1022.3 472.9 1041.8 472.0 1045.0 C471.1 1048.2 466.8 1066.3 466.0 1068.0 C465.2 1069.7 459.1 1072.2 459.3 1070.0 C459.5 1067.8 467.1 1039.1 468.4 1035.0 C469.7 1030.9 477.5 1010.7 478.3 1008.0 C479.1 1005.3 479.6 996.4 481.0 995.0Z" fill="#7095aa" stroke="none" stroke-width="1.6" stroke-linejoin="round" stroke-linecap="round" />
<path d="M498.0 951.0 L503.0 956.0 L503.0 1000.0 L499.3 987.0Z" fill="#8fb0c1" stroke="none" stroke-width="1.6" stroke-linejoin="round" stroke-linecap="round" />
<path d="M386.0 1144.0 L535.0 1047.0 L560.0 1038.0 L575.0 1050.0 L583.0 1066.0 L555.0 1064.0 L400.0 1162.0Z" fill="#e3ebf0" stroke="none" stroke-width="1.6" stroke-linejoin="round" stroke-linecap="round" />
<path d="M400.0 1162.0 L555.0 1064.0 L583.0 1066.0 L591.0 1079.0 L586.0 1087.0 L411.0 1177.5 L396.0 1159.0Z" fill="#a9c0cd" stroke="none" stroke-width="1.6" stroke-linejoin="round" stroke-linecap="round" />
<path d="M411.0 1177.5 L586.0 1087.0 L617.0 1089.0 L606.8 1176.0 L560.0 1196.0 L530.0 1211.0 L471.4 1250.0 L462.0 1230.0 L453.0 1201.0Z" fill="#cad9e1" stroke="none" stroke-width="1.6" stroke-linejoin="round" stroke-linecap="round" />
<path d="M440.0 1195.0 L600.0 1110.0 L605.0 1135.0 L455.0 1215.0Z" fill="#dde7ed" stroke="none" stroke-width="1.6" stroke-linejoin="round" stroke-linecap="round" opacity="0.7"/>
<path d="M293.0 1123.0 C294.2 1117.5 304.7 1115.8 308.0 1115.5 C311.3 1115.2 323.3 1118.2 326.3 1120.0 C329.3 1121.8 336.2 1130.6 338.4 1133.6 C340.6 1136.6 346.8 1146.8 348.0 1150.0 C349.2 1153.2 353.3 1163.1 350.5 1165.4 C347.7 1167.7 325.6 1172.5 320.2 1173.0 C314.8 1173.5 298.7 1175.0 296.0 1170.0 C293.3 1165.0 291.8 1128.5 293.0 1123.0Z" fill="#5b8296" stroke="none" stroke-width="1.6" stroke-linejoin="round" stroke-linecap="round" />
<path d="M338.4 1133.6 L372.0 1150.0 L380.7 1147.0 L395.8 1159.3 L350.5 1165.4 L346.0 1145.0Z" fill="#8eaebf" stroke="none" stroke-width="1.6" stroke-linejoin="round" stroke-linecap="round" />
<path d="M591.0 1079.0 L617.0 1089.0 L659.0 1108.0 L669.7 1186.4 L651.3 1185.0 L606.8 1176.0 L600.0 1130.0Z" fill="#9fbac9" stroke="none" stroke-width="1.6" stroke-linejoin="round" stroke-linecap="round" />
<path d="M647.0 1102.0 L659.0 1108.0 L669.0 1185.0 L655.0 1184.0Z" fill="#e1e9ee" stroke="none" stroke-width="1.6" stroke-linejoin="round" stroke-linecap="round" />
<path d="M659.0 1108.0 L698.5 1084.0 L704.0 1087.0 L711.6 1147.0 L706.4 1160.0 L669.7 1186.4Z" fill="#a3bccb" stroke="none" stroke-width="1.6" stroke-linejoin="round" stroke-linecap="round" />
<ellipse cx="637.0" cy="1122.0" rx="5.0" ry="9.0" transform="rotate(-35.0 637.0 1122.0)" fill="#eef3f6" stroke="#1c2228" stroke-width="1.0"/>
<ellipse cx="583.0" cy="1117.0" rx="7.0" ry="5.0" transform="rotate(0.0 583.0 1117.0)" fill="#eef3f6" stroke="#1c2228" stroke-width="1.0"/>
<path d="M498.0 950.5 C498.2 948.4 502.7 950.8 503.0 955.7 C503.3 960.6 502.2 1019.0 503.0 1024.0 C503.8 1029.0 513.3 1030.2 515.0 1030.0 C516.7 1029.8 526.6 1021.8 528.0 1021.0 C529.4 1020.2 532.9 1016.7 536.0 1018.6 C539.1 1020.5 571.9 1046.8 575.0 1050.0 C578.1 1053.2 581.9 1064.1 583.0 1066.0 C584.1 1067.9 588.7 1077.5 591.0 1079.0 C593.3 1080.5 612.5 1087.1 617.0 1089.0 C621.5 1090.9 653.6 1108.3 659.0 1108.0 C664.4 1107.7 695.5 1085.4 698.5 1084.0 C701.5 1082.6 703.1 1082.8 704.0 1087.0 C704.9 1091.2 711.4 1142.1 711.6 1147.0 C711.8 1151.9 709.2 1157.4 706.4 1160.0 C703.6 1162.6 673.4 1184.7 669.7 1186.4 C666.0 1188.1 655.5 1185.7 651.3 1185.0 C647.1 1184.3 612.9 1175.3 606.8 1176.0 C600.7 1176.7 565.1 1193.7 560.0 1196.0 C554.9 1198.3 535.9 1207.4 530.0 1211.0 C524.1 1214.6 475.3 1246.2 471.4 1250.0 C467.5 1253.8 471.6 1265.6 471.4 1268.0 C471.2 1270.4 469.1 1284.9 468.4 1286.0 C467.7 1287.1 461.4 1287.6 461.0 1284.0 C460.6 1280.4 462.9 1237.5 462.4 1232.0 C461.9 1226.5 456.7 1205.3 453.3 1201.7 C449.9 1198.1 414.8 1180.3 411.0 1177.5 C407.2 1174.7 397.8 1161.3 395.8 1159.3 C393.8 1157.3 382.3 1147.6 380.7 1147.0 C379.1 1146.4 373.6 1148.8 371.6 1150.0 C369.6 1151.2 353.9 1163.9 350.5 1165.4 C347.1 1166.9 323.8 1172.7 320.2 1173.0 C316.6 1173.3 297.8 1173.3 296.0 1170.0 C294.2 1166.7 292.2 1126.6 293.0 1123.0 C293.8 1119.4 305.8 1115.7 308.0 1115.5 C310.2 1115.3 324.3 1118.8 326.3 1120.0 C328.3 1121.2 334.4 1134.6 338.4 1133.6 C342.4 1132.6 378.7 1109.2 386.8 1105.0 C394.9 1100.8 453.9 1074.7 459.3 1070.0 C464.7 1065.3 467.1 1039.1 468.4 1035.0 C469.7 1030.9 477.5 1010.7 478.3 1008.0 C479.1 1005.3 479.6 996.4 481.0 995.0 C482.4 993.6 498.2 990.0 499.3 987.0 C500.4 984.0 497.8 952.6 498.0 950.5Z" fill="none" stroke="#1c2228" stroke-width="1.9" stroke-linejoin="round" stroke-linecap="round" />
<path d="M386.0 1144.0 C410.8 1127.8 506.0 1064.7 535.0 1047.0 C564.0 1029.3 555.8 1039.5 560.0 1038.0" fill="none" stroke="#1c2228" stroke-width="1" stroke-linejoin="round" stroke-linecap="round" />
<path d="M400.0 1162.0 C425.8 1145.7 524.5 1080.0 555.0 1064.0 C585.5 1048.0 578.3 1065.7 583.0 1066.0" fill="none" stroke="#1c2228" stroke-width="0.8" stroke-linejoin="round" stroke-linecap="round" opacity="0.6"/>
<path d="M411.0 1177.5 C440.2 1162.4 556.0 1103.4 586.0 1087.0 C616.0 1070.6 590.2 1080.3 591.0 1079.0" fill="none" stroke="#1c2228" stroke-width="1" stroke-linejoin="round" stroke-linecap="round" />
<path d="M591.0 1079.0 C592.5 1087.5 597.4 1113.8 600.0 1130.0 C602.6 1146.2 605.7 1168.3 606.8 1176.0" fill="none" stroke="#1c2228" stroke-width="1" stroke-linejoin="round" stroke-linecap="round" />
<path d="M659.0 1108.0 C660.0 1115.0 663.2 1136.9 665.0 1150.0 C666.8 1163.1 668.9 1180.3 669.7 1186.4" fill="none" stroke="#1c2228" stroke-width="1" stroke-linejoin="round" stroke-linecap="round" />
<path d="M338.4 1133.6 C339.7 1135.5 344.0 1139.7 346.0 1145.0 C348.0 1150.3 349.8 1162.0 350.5 1165.4" fill="none" stroke="#1c2228" stroke-width="1" stroke-linejoin="round" stroke-linecap="round" />
<path d="M455.0 1215.0 C479.2 1202.5 575.8 1152.5 600.0 1140.0" fill="none" stroke="#1c2228" stroke-width="0.9" stroke-linejoin="round" stroke-linecap="round" />
<path d="M477.0 1250.0 v-14 a7 7 0 0 1 14 0 v14" fill="#c5d5de" stroke="#1c2228" stroke-width="1.1" stroke-linejoin="round" stroke-linecap="round" />
<circle cx="484.0" cy="1241.0" r="1.8" fill="#fff" stroke="#1c2228" stroke-width="0.8"/>
<path d="M563.0 1198.0 v-14 a7 7 0 0 1 14 0 v14" fill="#c5d5de" stroke="#1c2228" stroke-width="1.1" stroke-linejoin="round" stroke-linecap="round" />
<circle cx="570.0" cy="1189.0" r="1.8" fill="#fff" stroke="#1c2228" stroke-width="0.8"/>
<path d="M678.0 1155.0 v-14 a7 7 0 0 1 14 0 v14" fill="#c5d5de" stroke="#1c2228" stroke-width="1.1" stroke-linejoin="round" stroke-linecap="round" />
<circle cx="685.0" cy="1146.0" r="1.8" fill="#fff" stroke="#1c2228" stroke-width="0.8"/>
<ellipse cx="338.0" cy="1162.0" rx="4.0" ry="3.0" transform="rotate(0.0 338.0 1162.0)" fill="#dfe8ed" stroke="#1c2228" stroke-width="1.0"/>
<circle cx="365" cy="1186" r="7" fill="#7a9fb2" stroke="#1c2228" stroke-width="1.5"/>
<circle cx="365" cy="1186" r="2.5" fill="#dfe8ed" stroke="#1c2228" stroke-width="0.8"/>
<polyline points="338.0,1163.0 360.0,1182.0" fill="none" stroke="#6d95ab" stroke-width="1" stroke-linejoin="miter"/>
<path d="M763.2 1064.5 L772.9 1062.0 L787.4 1067.0 L775.3 1085.0 L772.9 1151.6 L763.2 1183.0 L666.4 1318.5 L649.5 1313.7 L645.9 1262.9 L632.6 1255.6 L637.4 1250.8 L664.0 1252.0 L665.2 1296.7 L748.7 1180.6 L755.9 1151.6 L757.2 1081.4Z" fill="#b8cbd6" stroke="#1c2228" stroke-width="1.7" stroke-linejoin="round" stroke-linecap="round" />
<path d="M645.9 1262.9 L664.0 1262.0 L665.2 1296.7 L666.4 1318.5 L649.5 1313.7Z" fill="#98b4c3" stroke="#1c2228" stroke-width="1.5" stroke-linejoin="round" stroke-linecap="round" />
<path d="M643 1253 a5 3 0 1 0 10 0 a5 3 0 1 0 -10 0Z" fill="#fff" stroke="#1c2228" stroke-width="0.9" stroke-linejoin="round" stroke-linecap="round" />
<path d="M764 1084 a6 4 0 1 0 12 0 a6 4 0 1 0 -12 0Z" fill="#fff" stroke="#1c2228" stroke-width="0.9" stroke-linejoin="round" stroke-linecap="round" />
<path d="M293.5 934.8 L301.0 932.0 L320.1 945.0 L320.1 988.0 L329.0 996.0 L531.6 919.0 L537.0 930.7 L331.0 1006.0 L316.0 1002.0 L307.0 990.0 L307.0 950.0 L294.0 944.0Z" fill="#c3d4de" stroke="#1c2228" stroke-width="1.7" stroke-linejoin="round" stroke-linecap="round" />
<path d="M307.0 950.0 L320.1 945.0 L320.1 988.0 L329.0 996.0 L331.0 1006.0 L316.0 1002.0 L307.0 990.0Z" fill="#a3bccb" stroke="#1c2228" stroke-width="1.3" stroke-linejoin="round" stroke-linecap="round" />
<ellipse cx="302.0" cy="940.0" rx="4.5" ry="2.6" transform="rotate(0.0 302.0 940.0)" fill="#fff" stroke="#1c2228" stroke-width="0.9"/>
<path d="M313 960 q2 -3 3 0" fill="none" stroke="#1c2228" stroke-width="0.9" stroke-linejoin="round" stroke-linecap="round" />
<path d="M532.9 391.4 C531.8 397.1 529.3 416.9 526.1 425.6 C522.9 434.4 518.9 424.9 513.6 443.9 C508.3 462.9 498.2 519.9 494.2 539.7 C490.2 559.5 488.5 547.3 489.6 562.5 C490.7 577.7 498.9 615.1 501.0 630.9 C503.1 646.7 501.5 650.9 502.2 657.1 C502.9 663.3 504.5 666.2 505.0 668.0 L527.0 664.0 C526.5 663.0 525.1 667.6 523.8 658.3 C522.5 649.0 521.6 624.5 519.3 608.1 C517.0 591.8 507.4 585.7 510.1 560.2 C512.8 534.7 529.5 477.7 535.2 455.3 C540.9 432.9 540.9 434.4 544.3 425.6 C547.7 416.9 553.8 406.6 555.7 402.8Z" fill="#b4c9d5" stroke="#1c2228" stroke-width="1.8" stroke-linejoin="round" stroke-linecap="round" />
<path d="M542.0 412.0 C539.2 417.5 530.7 427.0 525.0 445.0 C519.3 463.0 512.2 500.0 508.0 520.0 C503.8 540.0 499.7 547.5 500.0 565.0 C500.3 582.5 507.8 610.0 510.0 625.0 C512.2 640.0 512.5 650.0 513.0 655.0" fill="none" stroke="#e4edf2" stroke-width="4" stroke-linejoin="round" stroke-linecap="round" opacity="0.8"/>
<path d="M550.0 410.0 C547.0 416.7 537.7 431.7 532.0 450.0 C526.3 468.3 520.3 500.8 516.0 520.0 C511.7 539.2 506.0 548.3 506.0 565.0 C506.0 581.7 513.8 605.0 516.0 620.0 C518.2 635.0 518.5 649.2 519.0 655.0" fill="none" stroke="#7d9fb2" stroke-width="2.5" stroke-linejoin="round" stroke-linecap="round" opacity="0.6"/>
<path d="M560.3 380.0 C558.4 385.7 555.7 405.8 548.9 414.2 C542.1 422.6 525.6 425.6 519.3 430.2 C513.0 434.8 516.6 419.6 511.3 441.6 C506.0 463.7 490.2 534.8 487.3 562.5 C484.4 590.2 490.0 592.9 494.2 608.1 C498.4 623.3 510.9 644.2 512.4 653.7 C513.9 663.2 510.4 661.1 503.3 665.1 C496.2 669.1 480.6 673.5 470.0 678.0 C459.4 682.5 451.7 686.3 440.0 692.0 C428.3 697.7 409.2 707.0 400.0 712.0 C390.8 717.0 387.5 720.3 385.0 722.0" fill="none" stroke="#1c2228" stroke-width="5.2" stroke-linejoin="round" stroke-linecap="round" />
<path d="M560.3 380.0 C558.4 385.7 555.7 405.8 548.9 414.2 C542.1 422.6 525.6 425.6 519.3 430.2 C513.0 434.8 516.6 419.6 511.3 441.6 C506.0 463.7 490.2 534.8 487.3 562.5 C484.4 590.2 490.0 592.9 494.2 608.1 C498.4 623.3 510.9 644.2 512.4 653.7 C513.9 663.2 510.4 661.1 503.3 665.1 C496.2 669.1 480.6 673.5 470.0 678.0 C459.4 682.5 451.7 686.3 440.0 692.0 C428.3 697.7 409.2 707.0 400.0 712.0 C390.8 717.0 387.5 720.3 385.0 722.0" fill="none" stroke="#c7d8e1" stroke-width="2.6" stroke-linejoin="round" stroke-linecap="round" />
<path d="M556.2 323.2 L592.6 307.9 L613.6 304.0 L617.5 301.2 L627.0 299.3 L630.9 306.0 L621.3 310.7 L607.9 327.0 L594.5 317.5 L592.6 348.1 L565.8 355.8 L558.0 340.4Z" fill="#b3c8d4" stroke="#1c2228" stroke-width="1.5" stroke-linejoin="round" stroke-linecap="round" />
<path d="M594.5 317.5 L621.3 310.7 L630.9 323.2 L636.6 340.4 L639.5 359.6 L627.0 367.2 L621.3 355.8 L615.5 340.4 L607.9 327.0Z" fill="#c9d8e0" stroke="#1c2228" stroke-width="1.5" stroke-linejoin="round" stroke-linecap="round" />
<path d="M607.9 327.0 L615.5 340.4 L621.3 355.8 L627.0 367.2 L639.5 359.6 L636.6 340.4 L628.0 333.0Z" fill="#5f8699" stroke="#1c2228" stroke-width="1.2" stroke-linejoin="round" stroke-linecap="round" />
<circle cx="625" cy="343" r="2.3" fill="#fff" stroke="#1c2228" stroke-width="0.8"/>
<circle cx="630" cy="357" r="2.3" fill="#fff" stroke="#1c2228" stroke-width="0.8"/>
<ellipse cx="621.0" cy="304.0" rx="2.8" ry="2.0" transform="rotate(-20.0 621.0 304.0)" fill="#fff" stroke="#1c2228" stroke-width="0.8"/>
<path d="M571.0 325.0 L584.0 320.0 L589.0 340.0 L576.0 345.0Z" fill="#dfe8ed" stroke="#1c2228" stroke-width="0.9" stroke-linejoin="round" stroke-linecap="round" />
<path d="M572.0 327.5 l12 -4.5" fill="none" stroke="#1c2228" stroke-width="0.7" stroke-linejoin="round" stroke-linecap="round" />
<path d="M572.9 330.5 l12 -4.5" fill="none" stroke="#1c2228" stroke-width="0.7" stroke-linejoin="round" stroke-linecap="round" />
<path d="M573.8 333.5 l12 -4.5" fill="none" stroke="#1c2228" stroke-width="0.7" stroke-linejoin="round" stroke-linecap="round" />
<path d="M574.7 336.5 l12 -4.5" fill="none" stroke="#1c2228" stroke-width="0.7" stroke-linejoin="round" stroke-linecap="round" />
<path d="M575.6 339.5 l12 -4.5" fill="none" stroke="#1c2228" stroke-width="0.7" stroke-linejoin="round" stroke-linecap="round" />
<path d="M576.5 342.5 l12 -4.5" fill="none" stroke="#1c2228" stroke-width="0.7" stroke-linejoin="round" stroke-linecap="round" />
<path d="M536.5 389.6 L536.8 390.1 L537.3 390.6 L538.0 391.0 L538.8 391.4 L539.8 391.6 L540.9 391.8 L542.2 391.8 L543.5 391.7 L544.9 391.6 L546.4 391.3 L547.9 391.0 L549.4 390.6 L550.9 390.1 L552.3 389.5 L553.7 388.9 L555.0 388.2 L556.1 387.5 L557.1 386.7 L558.0 386.0 L558.6 385.2 L559.1 384.5 L559.4 383.8 L559.5 383.1 L559.5 382.4 L550.1 321.8 L549.6 320.8 L548.7 319.9 L547.6 319.2 L546.1 318.6 L544.4 318.2 L542.4 317.9 L540.2 317.8 L537.9 317.9 L535.4 318.2 L532.8 318.6 L530.1 319.2 L527.5 320.0 L524.9 320.9 L522.4 321.9 L520.0 323.0 L517.8 324.2 L515.8 325.4 L514.1 326.7 L512.6 328.1 L511.4 329.4 L510.5 330.7 L510.0 331.9 L509.8 333.1 L509.9 334.2Z" fill="#c5d5de" stroke="#1c2228" stroke-width="1.6" stroke-linejoin="round" stroke-linecap="round" />
<path d="M542.0 330.0 C543.0 333.3 546.2 343.3 548.0 350.0 C549.8 356.7 552.2 366.7 553.0 370.0" fill="none" stroke="#eef3f6" stroke-width="3" stroke-linejoin="round" stroke-linecap="round" opacity="0.8"/>
<path d="M480.0 343.0 L482.0 339.0 L497.0 337.0 L503.0 335.0 L510.0 327.0 L528.0 332.0 L541.0 352.0 L547.0 377.0 L547.0 390.0 L537.0 393.0 L527.0 385.0 L508.0 370.0 L490.0 358.0 L482.0 350.0Z" fill="#c3d4de" stroke="#1c2228" stroke-width="1.5" stroke-linejoin="round" stroke-linecap="round" />
<path d="M527.0 356.0 L541.0 352.0 L547.0 377.0 L547.0 390.0 L537.0 393.0 L530.0 385.0Z" fill="#5f8699" stroke="#1c2228" stroke-width="1.2" stroke-linejoin="round" stroke-linecap="round" />
<path d="M490.0 350.0 C492.5 350.3 499.2 350.7 505.0 352.0 C510.8 353.3 521.7 357.0 525.0 358.0" fill="none" stroke="#1c2228" stroke-width="0.9" stroke-linejoin="round" stroke-linecap="round" />
<ellipse cx="486.3" cy="343.3" rx="3.5" ry="2.3" transform="rotate(-10.0 486.3 343.3)" fill="#fff" stroke="#1c2228" stroke-width="1.0"/>
<circle cx="535.5" cy="367" r="2.3" fill="#fff" stroke="#1c2228" stroke-width="0.8"/>
<circle cx="540" cy="382.6" r="2.3" fill="#fff" stroke="#1c2228" stroke-width="0.8"/>
<circle cx="524" cy="375" r="2" fill="#fff" stroke="#1c2228" stroke-width="0.8"/>
<path d="M509.6 335.1 L510.1 336.2 L510.9 337.3 L512.1 338.2 L513.5 339.0 L515.2 339.6 L517.2 340.1 L519.4 340.4 L521.8 340.5 L524.3 340.4 L526.9 340.2 L529.6 339.8 L532.3 339.2 L534.9 338.4 L537.5 337.5 L539.9 336.5 L542.2 335.4 L544.2 334.2 L546.0 332.9 L547.6 331.5 L548.8 330.2 L549.7 328.8 L550.3 327.5 L550.5 326.1 L550.4 324.9 L549.3 312.4 L548.8 311.2 L547.9 310.0 L546.7 309.0 L545.1 308.1 L543.2 307.5 L541.0 307.0 L538.6 306.6 L536.0 306.5 L533.2 306.6 L530.4 306.9 L527.4 307.3 L524.5 308.0 L521.6 308.8 L518.8 309.7 L516.1 310.9 L513.7 312.1 L511.4 313.4 L509.4 314.8 L507.8 316.3 L506.4 317.8 L505.4 319.3 L504.8 320.8 L504.5 322.2 L504.7 323.6Z" fill="#b9ccd7" stroke="#1c2228" stroke-width="1.6" stroke-linejoin="round" stroke-linecap="round" />
<ellipse cx="527.0" cy="318.0" rx="23.0" ry="10.3" transform="rotate(166.0 527.0 318.0)" fill="#b9ccd7" stroke="#1c2228" stroke-width="1.3"/>
<path d="M517.6 269.7 L516.9 268.8 L515.9 268.1 L514.6 267.5 L513.0 267.2 L511.3 267.1 L509.4 267.3 L507.3 267.6 L505.1 268.2 L502.8 268.9 L500.5 269.9 L498.1 271.0 L495.9 272.3 L493.7 273.7 L491.6 275.2 L489.7 276.8 L487.9 278.5 L486.4 280.1 L485.1 281.8 L484.1 283.5 L483.3 285.1 L482.9 286.6 L482.7 287.9 L482.9 289.2 L483.4 290.3 L485.5 295.8 L486.3 296.8 L487.4 297.5 L488.7 298.1 L490.3 298.4 L492.2 298.5 L494.2 298.4 L496.4 298.0 L498.7 297.4 L501.1 296.6 L503.5 295.6 L506.0 294.4 L508.4 293.1 L510.7 291.6 L512.9 290.0 L514.9 288.4 L516.7 286.6 L518.3 284.9 L519.7 283.1 L520.7 281.4 L521.5 279.7 L522.0 278.1 L522.2 276.7 L522.0 275.3 L521.5 274.2Z" fill="#c3d4de" stroke="#1c2228" stroke-width="1.3" stroke-linejoin="round" stroke-linecap="round" />
<path d="M525.8 279.3 L525.0 278.3 L523.9 277.6 L522.6 277.0 L521.0 276.7 L519.2 276.6 L517.2 276.7 L515.0 277.1 L512.8 277.7 L510.4 278.5 L508.0 279.4 L505.6 280.6 L503.2 281.9 L501.0 283.4 L498.8 284.9 L496.8 286.6 L495.0 288.3 L493.4 290.0 L492.1 291.8 L491.1 293.5 L490.3 295.1 L489.8 296.7 L489.7 298.1 L489.8 299.4 L490.3 300.5 L492.5 306.0 L493.3 307.0 L494.4 307.8 L495.8 308.4 L497.5 308.7 L499.3 308.8 L501.4 308.7 L503.7 308.3 L506.1 307.7 L508.6 306.9 L511.1 305.9 L513.6 304.6 L516.0 303.3 L518.4 301.7 L520.7 300.1 L522.8 298.4 L524.7 296.6 L526.3 294.7 L527.7 292.9 L528.8 291.1 L529.6 289.4 L530.1 287.8 L530.3 286.3 L530.1 284.9 L529.6 283.8Z" fill="#a9c0cd" stroke="#1c2228" stroke-width="1.3" stroke-linejoin="round" stroke-linecap="round" />
<path d="M533.9 288.8 L533.1 287.8 L532.0 287.1 L530.6 286.5 L528.9 286.2 L527.1 286.1 L525.0 286.2 L522.8 286.6 L520.4 287.2 L518.0 288.0 L515.5 289.0 L513.1 290.2 L510.6 291.6 L508.3 293.1 L506.1 294.7 L504.0 296.4 L502.1 298.2 L500.5 300.0 L499.1 301.7 L498.0 303.5 L497.3 305.2 L496.8 306.8 L496.6 308.3 L496.8 309.6 L497.3 310.8 L499.4 316.3 L500.3 317.3 L501.4 318.1 L502.9 318.7 L504.6 319.1 L506.5 319.2 L508.7 319.0 L511.0 318.6 L513.5 318.0 L516.0 317.2 L518.6 316.1 L521.2 314.8 L523.7 313.4 L526.2 311.8 L528.5 310.2 L530.7 308.4 L532.6 306.5 L534.3 304.6 L535.8 302.8 L536.9 300.9 L537.7 299.2 L538.2 297.5 L538.4 295.9 L538.2 294.5 L537.7 293.3Z" fill="#c3d4de" stroke="#1c2228" stroke-width="1.3" stroke-linejoin="round" stroke-linecap="round" />
<path d="M542.0 298.4 L541.1 297.4 L540.0 296.6 L538.6 296.0 L536.9 295.7 L535.0 295.6 L532.8 295.7 L530.5 296.1 L528.1 296.7 L525.6 297.5 L523.1 298.6 L520.5 299.8 L518.0 301.2 L515.6 302.8 L513.3 304.4 L511.2 306.2 L509.3 308.0 L507.6 309.9 L506.2 311.7 L505.0 313.5 L504.2 315.3 L503.7 316.9 L503.6 318.4 L503.7 319.8 L504.2 321.0 L506.4 326.5 L507.2 327.6 L508.4 328.4 L509.9 329.0 L511.7 329.4 L513.7 329.5 L515.9 329.3 L518.3 328.9 L520.9 328.3 L523.5 327.4 L526.1 326.3 L528.8 325.0 L531.4 323.6 L534.0 322.0 L536.3 320.2 L538.6 318.4 L540.6 316.5 L542.3 314.5 L543.8 312.6 L545.0 310.7 L545.8 308.9 L546.4 307.2 L546.5 305.6 L546.3 304.1 L545.8 302.9Z" fill="#a9c0cd" stroke="#1c2228" stroke-width="1.3" stroke-linejoin="round" stroke-linecap="round" />
<ellipse cx="501.6" cy="282.0" rx="19.7" ry="9.0" transform="rotate(-29.0 501.6 282.0)" fill="#b3c8d4" stroke="#1c2228" stroke-width="1.5"/>
<ellipse cx="502.0" cy="283.0" rx="15.0" ry="6.0" transform="rotate(-29.0 502.0 283.0)" fill="#d9e4ea" stroke="#1c2228" stroke-width="0.9"/>
<circle cx="549" cy="338" r="7" fill="#dfe8ed" stroke="#1c2228" stroke-width="1.4"/>
<circle cx="551" cy="337" r="3.5" fill="none" stroke="#1c2228" stroke-width="1"/>
<circle cx="488" cy="389" r="7.5" fill="#7a9fb2" stroke="#1c2228" stroke-width="1.4"/>
<circle cx="488" cy="389" r="4" fill="#9fb8c6" stroke="#1c2228" stroke-width="0.9"/>
<path d="M493.0 384.0 L508.0 382.0 L508.0 391.0 L493.0 394.0Z" fill="#dfe8ed" stroke="#1c2228" stroke-width="1.1" stroke-linejoin="round" stroke-linecap="round" />
<path d="M497.0 383 v10" fill="none" stroke="#1c2228" stroke-width="0.7" stroke-linejoin="round" stroke-linecap="round" />
<path d="M500.5 383 v10" fill="none" stroke="#1c2228" stroke-width="0.7" stroke-linejoin="round" stroke-linecap="round" />
<path d="M504.0 383 v10" fill="none" stroke="#1c2228" stroke-width="0.7" stroke-linejoin="round" stroke-linecap="round" />
<polyline points="508.0,386.0 522.0,385.0" fill="none" stroke="#6d95ab" stroke-width="1" stroke-linejoin="miter"/>
<path d="M438.0 124.0 C439.7 123.3 444.0 122.2 448.0 120.0 C452.0 117.8 458.5 112.2 462.0 111.0 C465.5 109.8 468.0 110.2 469.0 113.0 C470.0 115.8 470.2 123.5 468.0 128.0 C465.8 132.5 460.7 135.8 456.0 140.0 C451.3 144.2 442.7 150.8 440.0 153.0" fill="none" stroke="#1c2228" stroke-width="3.4" stroke-linejoin="round" stroke-linecap="round" />
<path d="M438.0 124.0 C439.7 123.3 444.0 122.2 448.0 120.0 C452.0 117.8 458.5 112.2 462.0 111.0 C465.5 109.8 468.0 110.2 469.0 113.0 C470.0 115.8 470.2 123.5 468.0 128.0 C465.8 132.5 460.7 135.8 456.0 140.0 C451.3 144.2 442.7 150.8 440.0 153.0" fill="none" stroke="#9fb8c6" stroke-width="1.3" stroke-linejoin="round" stroke-linecap="round" />
<ellipse cx="434.0" cy="126.0" rx="6.5" ry="3.8" transform="rotate(-30.0 434.0 126.0)" fill="#fff" stroke="#1c2228" stroke-width="1.5"/>
<path d="M454 138 l4 4 M457 135 l4 4" fill="none" stroke="#1c2228" stroke-width="1.2" stroke-linejoin="round" stroke-linecap="round" />
<path d="M414.0 101.0 L419.0 97.0 L425.0 101.0 L424.0 107.0 L426.0 112.0 L422.0 115.0 L418.0 111.0 L416.0 106.0Z" fill="#9db7c6" stroke="#1c2228" stroke-width="1.3" stroke-linejoin="round" stroke-linecap="round" />
<polyline points="423.0,112.0 432.0,124.0" fill="none" stroke="#6d95ab" stroke-width="1" stroke-linejoin="miter"/>
<path d="M430.9 144.0 L429.8 142.7 L428.4 141.7 L426.6 140.9 L424.5 140.4 L422.2 140.2 L419.6 140.4 L416.8 140.8 L413.9 141.5 L410.9 142.5 L407.9 143.8 L404.9 145.3 L402.0 147.0 L399.2 148.9 L396.6 151.0 L394.2 153.2 L392.0 155.5 L390.1 157.8 L388.6 160.1 L387.3 162.4 L386.5 164.6 L386.1 166.7 L386.0 168.6 L386.3 170.4 L387.1 172.0 L401.9 193.4 L403.0 194.7 L404.4 195.7 L406.1 196.4 L408.1 196.9 L410.4 197.1 L412.8 196.9 L415.5 196.5 L418.3 195.8 L421.1 194.9 L424.0 193.7 L426.9 192.2 L429.7 190.5 L432.4 188.7 L434.9 186.7 L437.3 184.6 L439.4 182.4 L441.2 180.2 L442.7 178.0 L443.8 175.8 L444.6 173.6 L445.1 171.6 L445.1 169.8 L444.8 168.1 L444.1 166.6Z" fill="#b9ccd7" stroke="#1c2228" stroke-width="1.8" stroke-linejoin="round" stroke-linecap="round" />
<ellipse cx="423.0" cy="180.0" rx="25.0" ry="12.5" transform="rotate(-32.5 423.0 180.0)" fill="#5f8699" stroke="#1c2228" stroke-width="1.4"/>
<path d="M393.0 170.0 C394.2 167.7 395.8 159.8 400.0 156.0 C404.2 152.2 412.0 148.3 418.0 147.0 C424.0 145.7 433.0 147.8 436.0 148.0" fill="none" stroke="#1c2228" stroke-width="1" stroke-linejoin="round" stroke-linecap="round" />
<path d="M396.0 177.0 C397.3 174.7 399.7 166.8 404.0 163.0 C408.3 159.2 416.0 155.3 422.0 154.0 C428.0 152.7 437.0 154.8 440.0 155.0" fill="none" stroke="#1c2228" stroke-width="1" stroke-linejoin="round" stroke-linecap="round" />
<path d="M399.0 184.0 C400.5 181.7 403.3 173.8 408.0 170.0 C412.7 166.2 421.0 162.2 427.0 161.0 C433.0 159.8 441.2 162.7 444.0 163.0" fill="none" stroke="#eef3f6" stroke-width="3" stroke-linejoin="round" stroke-linecap="round" opacity="0.8"/>
<path d="M435.2 172.6 L434.6 171.9 L433.7 171.4 L432.7 171.1 L431.6 170.9 L430.3 170.9 L428.9 171.1 L427.5 171.4 L426.0 172.0 L424.4 172.6 L422.8 173.4 L421.3 174.4 L419.8 175.4 L418.4 176.5 L417.0 177.8 L415.8 179.0 L414.8 180.4 L413.8 181.7 L413.1 183.0 L412.6 184.3 L412.2 185.5 L412.0 186.6 L412.1 187.7 L412.3 188.6 L412.8 189.4 L425.6 204.8 L426.2 205.4 L427.0 205.9 L427.9 206.2 L428.9 206.4 L430.1 206.4 L431.4 206.2 L432.8 205.9 L434.2 205.4 L435.6 204.8 L437.1 204.0 L438.5 203.2 L439.9 202.2 L441.2 201.1 L442.5 200.0 L443.6 198.8 L444.6 197.6 L445.4 196.4 L446.1 195.2 L446.6 194.0 L447.0 192.8 L447.1 191.8 L447.1 190.8 L446.8 189.9 L446.4 189.2Z" fill="#c9d8e0" stroke="#1c2228" stroke-width="1.5" stroke-linejoin="round" stroke-linecap="round" />
<ellipse cx="436.0" cy="197.0" rx="13.0" ry="6.5" transform="rotate(-36.9 436.0 197.0)" fill="#d9e4ea" stroke="#1c2228" stroke-width="1.2"/>
<ellipse cx="437.0" cy="198.0" rx="12.0" ry="6.5" transform="rotate(-30.0 437.0 198.0)" fill="#5f8699" stroke="#1c2228" stroke-width="1.4"/>
<ellipse cx="438.0" cy="199.0" rx="8.0" ry="4.2" transform="rotate(-30.0 438.0 199.0)" fill="#fff" stroke="#1c2228" stroke-width="1.0"/>
<polyline points="440.0,200.0 446.0,208.0" fill="none" stroke="#6d95ab" stroke-width="1" stroke-linejoin="miter"/>
<ellipse cx="451.0" cy="213.5" rx="18.0" ry="10.0" transform="rotate(-27.0 451.0 213.5)" fill="none" stroke="#1c2228" stroke-width="5.4"/>
<ellipse cx="451.0" cy="213.5" rx="18.0" ry="10.0" transform="rotate(-27.0 451.0 213.5)" fill="none" stroke="#9fb8c6" stroke-width="2.4"/>
<polyline points="452.0,216.0 465.0,235.0" fill="none" stroke="#6d95ab" stroke-width="1" stroke-linejoin="miter"/>
<path d="M466.0 234.0 L469.0 230.0 L474.0 232.0 L473.0 238.0Z" fill="#b3c7d3" stroke="#1c2228" stroke-width="1.1" stroke-linejoin="round" stroke-linecap="round" />
<path d="M488.9 234.5 L488.2 233.6 L487.3 232.8 L486.1 232.3 L484.7 231.9 L483.1 231.6 L481.4 231.6 L479.4 231.8 L477.4 232.2 L475.3 232.7 L473.2 233.4 L471.0 234.3 L468.9 235.4 L466.9 236.5 L465.0 237.8 L463.2 239.2 L461.5 240.6 L460.1 242.1 L458.9 243.6 L457.9 245.1 L457.2 246.5 L456.8 247.9 L456.6 249.2 L456.7 250.4 L457.1 251.5 L466.0 266.0 L466.6 266.9 L467.5 267.6 L468.6 268.1 L469.9 268.5 L471.4 268.7 L473.1 268.7 L474.9 268.6 L476.8 268.2 L478.8 267.7 L480.8 267.0 L482.8 266.2 L484.8 265.2 L486.8 264.1 L488.6 262.9 L490.3 261.6 L491.8 260.2 L493.2 258.8 L494.3 257.4 L495.2 256.0 L495.9 254.7 L496.3 253.4 L496.5 252.1 L496.4 251.0 L496.0 250.0Z" fill="#a9c0cd" stroke="#1c2228" stroke-width="1.6" stroke-linejoin="round" stroke-linecap="round" />
<ellipse cx="481.0" cy="258.0" rx="17.0" ry="8.2" transform="rotate(-28.1 481.0 258.0)" fill="#c9d8e0" stroke="#1c2228" stroke-width="1.3"/>
<path d="M466 255 l7 -3 M470 262 l6 -3" fill="none" stroke="#1c2228" stroke-width="1" stroke-linejoin="round" stroke-linecap="round" />
<ellipse cx="482.0" cy="258.0" rx="14.0" ry="7.5" transform="rotate(-22.0 482.0 258.0)" fill="#5f8699" stroke="#1c2228" stroke-width="1.3"/>
<ellipse cx="483.0" cy="259.0" rx="10.0" ry="5.0" transform="rotate(-22.0 483.0 259.0)" fill="#dfe8ed" stroke="#1c2228" stroke-width="1.0"/>
<polyline points="487.0,265.0 500.0,282.0" fill="none" stroke="#6d95ab" stroke-width="1" stroke-linejoin="miter"/>
<path d="M566.0 283.0 C569.2 281.8 579.3 278.5 585.0 276.0 C590.7 273.5 595.5 271.0 600.0 268.0 C604.5 265.0 607.8 261.3 612.0 258.0 C616.2 254.7 621.5 250.5 625.0 248.0 C628.5 245.5 631.7 243.8 633.0 243.0" fill="none" stroke="#1c2228" stroke-width="3" stroke-linejoin="round" stroke-linecap="round" />
<path d="M566.0 283.0 C569.2 281.8 579.3 278.5 585.0 276.0 C590.7 273.5 595.5 271.0 600.0 268.0 C604.5 265.0 607.8 261.3 612.0 258.0 C616.2 254.7 621.5 250.5 625.0 248.0 C628.5 245.5 631.7 243.8 633.0 243.0" fill="none" stroke="#7d9fb2" stroke-width="1" stroke-linejoin="round" stroke-linecap="round" />
<path d="M598 262 q3 6 2 12 M603 260 q3 6 2 12" fill="none" stroke="#1c2228" stroke-width="1.1" stroke-linejoin="round" stroke-linecap="round" />
<path d="M598 262 q3 6 2 12" fill="none" stroke="#fff" stroke-width="2.5" stroke-linejoin="round" stroke-linecap="round" opacity="0"/>
<path d="M551.0 283.0 L566.0 276.0 L570.0 287.0 L556.0 294.0Z" fill="#4f7386" stroke="#1c2228" stroke-width="1.3" stroke-linejoin="round" stroke-linecap="round" />
<path d="M628.0 242.0 L637.0 236.0 L641.0 240.0 L639.0 247.0 L632.0 251.0Z" fill="#dfe8ed" stroke="#1c2228" stroke-width="1.1" stroke-linejoin="round" stroke-linecap="round" />
<path d="M575 280 l6 -3 M612 258 l5 -3" fill="none" stroke="#1c2228" stroke-width="2.5" stroke-linejoin="round" stroke-linecap="round" />
<path d="M179.0 432.0 C180.2 431.3 184.7 433.1 186.0 428.0 C187.3 422.9 184.4 408.3 187.0 401.5 C189.6 394.7 194.9 390.0 201.6 387.0 C208.3 384.0 216.1 387.9 227.0 383.4 C237.9 378.9 258.4 368.3 266.9 359.8 C275.4 351.3 271.8 343.8 277.8 332.6 C283.9 321.4 296.6 300.6 303.2 292.7 C309.8 284.8 312.8 286.3 317.7 285.4 C322.6 284.5 322.6 283.0 332.3 287.2 C342.0 291.4 361.9 305.7 375.8 310.8 C389.7 315.9 405.5 314.8 415.7 318.0 C425.9 321.2 432.8 324.7 437.0 330.0 C441.2 335.3 441.4 344.2 441.1 350.0 C440.8 355.8 438.5 362.7 435.0 365.0 C431.5 367.3 424.8 364.5 420.0 364.0 C415.2 363.5 408.3 362.3 406.0 362.0" fill="none" stroke="#1c2228" stroke-width="6" stroke-linejoin="round" stroke-linecap="round" />
<path d="M179.0 432.0 C180.2 431.3 184.7 433.1 186.0 428.0 C187.3 422.9 184.4 408.3 187.0 401.5 C189.6 394.7 194.9 390.0 201.6 387.0 C208.3 384.0 216.1 387.9 227.0 383.4 C237.9 378.9 258.4 368.3 266.9 359.8 C275.4 351.3 271.8 343.8 277.8 332.6 C283.9 321.4 296.6 300.6 303.2 292.7 C309.8 284.8 312.8 286.3 317.7 285.4 C322.6 284.5 322.6 283.0 332.3 287.2 C342.0 291.4 361.9 305.7 375.8 310.8 C389.7 315.9 405.5 314.8 415.7 318.0 C425.9 321.2 432.8 324.7 437.0 330.0 C441.2 335.3 441.4 344.2 441.1 350.0 C440.8 355.8 438.5 362.7 435.0 365.0 C431.5 367.3 424.8 364.5 420.0 364.0 C415.2 363.5 408.3 362.3 406.0 362.0" fill="none" stroke="#b8cbd6" stroke-width="2.6" stroke-linejoin="round" stroke-linecap="round" />
<path d="M198.0 445.0 C199.0 443.8 203.1 442.8 204.0 438.0 C204.9 433.2 201.4 422.1 203.4 416.0 C205.4 409.9 204.9 409.4 216.1 401.5 C227.3 393.6 259.1 379.8 270.6 368.9 C282.1 358.0 278.5 348.3 285.1 336.2 C291.8 324.1 304.1 303.2 310.5 296.3 C316.9 289.4 315.3 291.5 323.2 294.5 C331.1 297.5 347.9 308.8 357.7 314.4 C367.5 320.0 376.7 323.6 382.0 328.0 C387.3 332.4 388.2 338.8 389.5 341.0" fill="none" stroke="#1c2228" stroke-width="6" stroke-linejoin="round" stroke-linecap="round" />
<path d="M198.0 445.0 C199.0 443.8 203.1 442.8 204.0 438.0 C204.9 433.2 201.4 422.1 203.4 416.0 C205.4 409.9 204.9 409.4 216.1 401.5 C227.3 393.6 259.1 379.8 270.6 368.9 C282.1 358.0 278.5 348.3 285.1 336.2 C291.8 324.1 304.1 303.2 310.5 296.3 C316.9 289.4 315.3 291.5 323.2 294.5 C331.1 297.5 347.9 308.8 357.7 314.4 C367.5 320.0 376.7 323.6 382.0 328.0 C387.3 332.4 388.2 338.8 389.5 341.0" fill="none" stroke="#b8cbd6" stroke-width="2.6" stroke-linejoin="round" stroke-linecap="round" />
<g transform="translate(176.0 433.0) rotate(-25)"><rect x="-4.5" y="-5.5" width="9.0" height="11.0" rx="1.5" fill="#9fb8c6" stroke="#1c2228" stroke-width="1.5"/><ellipse cx="-4.5" cy="0" rx="2.5" ry="6.5" fill="#7a9fb2" stroke="#1c2228" stroke-width="1.3"/><ellipse cx="-4.5" cy="0" rx="1.2" ry="2.5" fill="#e8eff3" stroke="#1c2228" stroke-width="0.8"/></g>
<g transform="translate(196.0 446.0) rotate(-25)"><rect x="-4.5" y="-5.5" width="9.0" height="11.0" rx="1.5" fill="#9fb8c6" stroke="#1c2228" stroke-width="1.5"/><ellipse cx="-4.5" cy="0" rx="2.5" ry="6.5" fill="#7a9fb2" stroke="#1c2228" stroke-width="1.3"/><ellipse cx="-4.5" cy="0" rx="1.2" ry="2.5" fill="#e8eff3" stroke="#1c2228" stroke-width="0.8"/></g>
<g transform="translate(389.0 345.0) rotate(80)"><rect x="-4.0" y="-5.0" width="8.0" height="10.0" rx="1.5" fill="#9fb8c6" stroke="#1c2228" stroke-width="1.5"/><ellipse cx="-4.0" cy="0" rx="2.5" ry="6.0" fill="#7a9fb2" stroke="#1c2228" stroke-width="1.3"/><ellipse cx="-4.0" cy="0" rx="1.2" ry="2.2" fill="#e8eff3" stroke="#1c2228" stroke-width="0.8"/></g>
<g transform="translate(405.0 368.0) rotate(70)"><rect x="-4.0" y="-5.0" width="8.0" height="10.0" rx="1.5" fill="#9fb8c6" stroke="#1c2228" stroke-width="1.5"/><ellipse cx="-4.0" cy="0" rx="2.5" ry="6.0" fill="#7a9fb2" stroke="#1c2228" stroke-width="1.3"/><ellipse cx="-4.0" cy="0" rx="1.2" ry="2.2" fill="#e8eff3" stroke="#1c2228" stroke-width="0.8"/></g>
<path d="M332.7 457 L332.7 528 A32.6 9 0 0 0 398 528 L398 459 Z" fill="#cbd9e1" stroke="none" stroke-width="1.6" stroke-linejoin="round" stroke-linecap="round" />
<path d="M333 465 L333 528 A32.6 9 0 0 0 345 535.5 L345 470Z" fill="#a9c0cd" stroke="none" stroke-width="1.6" stroke-linejoin="round" stroke-linecap="round" opacity="0.8"/>
<path d="M386 470 L386 535 A32.6 9 0 0 0 398 528 L398 465Z" fill="#b3c7d3" stroke="none" stroke-width="1.6" stroke-linejoin="round" stroke-linecap="round" opacity="0.8"/>
<path d="M356 468 L356 537 M372 468 L372 537" fill="none" stroke="#e9f0f3" stroke-width="6" stroke-linejoin="round" stroke-linecap="round" opacity="0.8"/>
<path d="M332.7 457 L332.7 528 A32.6 9 0 0 0 398 528 L398 459" fill="none" stroke="#1c2228" stroke-width="1.6" stroke-linejoin="round" stroke-linecap="round" />
<ellipse cx="365.4" cy="458.0" rx="32.6" ry="13.0" transform="rotate(4.0 365.4 458.0)" fill="#8aabbd" stroke="#1c2228" stroke-width="1.5"/>
<path d="M345.0 452.0 L350.0 440.0 L360.0 436.0 L372.0 440.0 L378.0 452.0 L372.0 466.0 L352.0 466.0Z" fill="#4f7588" stroke="#1c2228" stroke-width="1" stroke-linejoin="round" stroke-linecap="round" />
<path d="M343 456 v-18 a3 2 0 0 1 6 0 v18Z" fill="#dfe8ed" stroke="#1c2228" stroke-width="1" stroke-linejoin="round" stroke-linecap="round" />
<path d="M388 459 v-22 a3 2 0 0 1 6 0 v22Z" fill="#dfe8ed" stroke="#1c2228" stroke-width="1" stroke-linejoin="round" stroke-linecap="round" />
<path d="M355.0 438.0 C355.8 435.8 357.5 427.5 360.0 425.0 C362.5 422.5 368.0 420.8 370.0 423.0 C372.0 425.2 372.5 433.5 372.0 438.0 C371.5 442.5 367.8 448.0 367.0 450.0" fill="none" stroke="#1c2228" stroke-width="3.2" stroke-linejoin="round" stroke-linecap="round" />
<path d="M355.0 438.0 C355.8 435.8 357.5 427.5 360.0 425.0 C362.5 422.5 368.0 420.8 370.0 423.0 C372.0 425.2 372.5 433.5 372.0 438.0 C371.5 442.5 367.8 448.0 367.0 450.0" fill="none" stroke="#dfe8ed" stroke-width="1.4" stroke-linejoin="round" stroke-linecap="round" />
<path d="M358.0 458.0 C358.3 456.3 357.7 449.8 360.0 448.0 C362.3 446.2 368.0 446.3 372.0 447.0 C376.0 447.7 382.0 451.2 384.0 452.0" fill="none" stroke="#1c2228" stroke-width="3.2" stroke-linejoin="round" stroke-linecap="round" />
<path d="M358.0 458.0 C358.3 456.3 357.7 449.8 360.0 448.0 C362.3 446.2 368.0 446.3 372.0 447.0 C376.0 447.7 382.0 451.2 384.0 452.0" fill="none" stroke="#dfe8ed" stroke-width="1.4" stroke-linejoin="round" stroke-linecap="round" />
<path d="M352.0 430.0 L365.0 420.0 L372.0 428.0 L360.0 438.0Z" fill="#b9ccd7" stroke="#1c2228" stroke-width="1" stroke-linejoin="round" stroke-linecap="round" />
<path d="M378.0 418.0 L405.0 424.0 L402.0 442.0 L380.0 436.0Z" fill="#9bb5c4" stroke="#1c2228" stroke-width="1" stroke-linejoin="round" stroke-linecap="round" />
<ellipse cx="389.0" cy="407.0" rx="35.0" ry="19.5" transform="rotate(13.0 389.0 407.0)" fill="#c9d8e0" stroke="#1c2228" stroke-width="1.6"/>
<ellipse cx="388.0" cy="407.5" rx="28.5" ry="14.0" transform="rotate(13.0 388.0 407.5)" fill="#a3bccb" stroke="#1c2228" stroke-width="1.1"/>
<path d="M360 415 a35 19.5 13 0 0 63 3" fill="none" stroke="#1c2228" stroke-width="1" stroke-linejoin="round" stroke-linecap="round" />
<path d="M372.0 396.0 L379.0 394.0 L381.0 413.0 L374.0 415.0Z" fill="#eef3f6" stroke="#1c2228" stroke-width="0.9" stroke-linejoin="round" stroke-linecap="round" />
<path d="M386.0 394.0 L404.0 398.0 L402.0 418.0 L385.0 414.0Z" fill="#eef3f6" stroke="#1c2228" stroke-width="0.9" stroke-linejoin="round" stroke-linecap="round" />
<path d="M405.0 404.0 L413.0 406.0 L412.0 420.0 L404.0 418.0Z" fill="#eef3f6" stroke="#1c2228" stroke-width="0.9" stroke-linejoin="round" stroke-linecap="round" />
<path d="M364.0 396.0 L369.0 395.0 L370.0 412.0 L365.0 413.0Z" fill="#dfe8ed" stroke="#1c2228" stroke-width="0.8" stroke-linejoin="round" stroke-linecap="round" />
<polyline points="384.0,368.0 381.0,395.0" fill="none" stroke="#6d95ab" stroke-width="1" stroke-linejoin="miter"/>
<polyline points="397.0,372.0 393.0,400.0" fill="none" stroke="#6d95ab" stroke-width="1" stroke-linejoin="miter"/>
<path d="M399.0 468.0 C399.7 470.0 402.5 475.5 403.0 480.0 C403.5 484.5 401.8 491.7 402.0 495.0 C402.2 498.3 401.0 496.2 404.0 500.0 C407.0 503.8 413.3 511.3 420.0 518.0 C426.7 524.7 440.0 536.3 444.0 540.0" fill="none" stroke="#1c2228" stroke-width="2.2" stroke-linejoin="round" stroke-linecap="round" />
<path d="M399.0 468.0 C399.7 470.0 402.5 475.5 403.0 480.0 C403.5 484.5 401.8 491.7 402.0 495.0 C402.2 498.3 401.0 496.2 404.0 500.0 C407.0 503.8 413.3 511.3 420.0 518.0 C426.7 524.7 440.0 536.3 444.0 540.0" fill="none" stroke="#c9d8e0" stroke-width="0.8" stroke-linejoin="round" stroke-linecap="round" />
<path d="M441.0 538.0 L459.0 532.0 L472.0 537.0 L472.0 551.0 L454.0 560.0 L441.0 553.0Z" fill="#a3bccb" stroke="#1c2228" stroke-width="1.5" stroke-linejoin="round" stroke-linecap="round" />
<path d="M441.0 538.0 L459.0 532.0 L472.0 537.0 L454.0 544.0Z" fill="#dfe8ed" stroke="#1c2228" stroke-width="1" stroke-linejoin="round" stroke-linecap="round" />
<path d="M336.0 257.0 a33.0 20.5 0 1 0 66.0 0 a33.0 20.5 0 1 0 -66.0 0Z M344.0 257.0 a25.0 14.5 0 1 1 50.0 0 a25.0 14.5 0 1 1 -50.0 0Z" fill="#c3d4de" stroke="#1c2228" stroke-width="1.4" stroke-linejoin="round" stroke-linecap="round" fill-rule="evenodd"/>
<ellipse cx="369.0" cy="257.0" rx="29.0" ry="17.5" transform="rotate(0.0 369.0 257.0)" fill="none" stroke="#7e9fb2" stroke-width="1.0"/>
<rect x="398.0" y="261.6" width="5" height="3" fill="#c3d4de" stroke="#1c2228" stroke-width="0.8" transform="rotate(116.5 400.5 263.1)"/>
<rect x="378.5" y="274.6" width="5" height="3" fill="#c3d4de" stroke="#1c2228" stroke-width="0.8" transform="rotate(166.4 381.0 276.1)"/>
<rect x="352.8" y="274.1" width="5" height="3" fill="#c3d4de" stroke="#1c2228" stroke-width="0.8" transform="rotate(-164.1 355.3 275.6)"/>
<rect x="334.5" y="260.4" width="5" height="3" fill="#c3d4de" stroke="#1c2228" stroke-width="0.8" transform="rotate(-111.6 337.0 261.9)"/>
<rect x="338.5" y="244.6" width="5" height="3" fill="#c3d4de" stroke="#1c2228" stroke-width="0.8" transform="rotate(-44.8 341.0 246.1)"/>
<rect x="362.8" y="235.1" width="5" height="3" fill="#c3d4de" stroke="#1c2228" stroke-width="0.8" transform="rotate(-4.0 365.3 236.6)"/>
<rect x="389.9" y="241.0" width="5" height="3" fill="#c3d4de" stroke="#1c2228" stroke-width="0.8" transform="rotate(32.0 392.4 242.5)"/>
<path d="M799.0 548.0 a36.0 20.7 0 1 0 72.0 0 a36.0 20.7 0 1 0 -72.0 0Z M807.0 548.0 a28.0 14.7 0 1 1 56.0 0 a28.0 14.7 0 1 1 -56.0 0Z" fill="#c3d4de" stroke="#1c2228" stroke-width="1.4" stroke-linejoin="round" stroke-linecap="round" fill-rule="evenodd"/>
<ellipse cx="835.0" cy="548.0" rx="32.0" ry="17.7" transform="rotate(0.0 835.0 548.0)" fill="none" stroke="#7e9fb2" stroke-width="1.0"/>
<rect x="866.9" y="552.6" width="5" height="3" fill="#c3d4de" stroke="#1c2228" stroke-width="0.8" transform="rotate(118.3 869.4 554.1)"/>
<rect x="845.5" y="565.8" width="5" height="3" fill="#c3d4de" stroke="#1c2228" stroke-width="0.8" transform="rotate(167.4 848.0 567.3)"/>
<rect x="817.5" y="565.3" width="5" height="3" fill="#c3d4de" stroke="#1c2228" stroke-width="0.8" transform="rotate(-165.3 820.0 566.8)"/>
<rect x="797.5" y="551.5" width="5" height="3" fill="#c3d4de" stroke="#1c2228" stroke-width="0.8" transform="rotate(-113.2 800.0 553.0)"/>
<rect x="802.0" y="535.5" width="5" height="3" fill="#c3d4de" stroke="#1c2228" stroke-width="0.8" transform="rotate(-42.6 804.5 537.0)"/>
<rect x="828.5" y="525.9" width="5" height="3" fill="#c3d4de" stroke="#1c2228" stroke-width="0.8" transform="rotate(-3.7 831.0 527.4)"/>
<rect x="858.0" y="531.9" width="5" height="3" fill="#c3d4de" stroke="#1c2228" stroke-width="0.8" transform="rotate(30.0 860.5 533.4)"/>
<path d="M329.6 571.0 A33.0 19.0 0 0 1 395.6 571.0 L395.6 580.0 A33.0 19.0 0 0 1 329.6 580.0 Z" fill="#b3c7d3" stroke="#1c2228" stroke-width="1.5" stroke-linejoin="round" stroke-linecap="round" />
<ellipse cx="362.6" cy="571.0" rx="33.0" ry="19.0" transform="rotate(0.0 362.6 571.0)" fill="#d3dfe6" stroke="#1c2228" stroke-width="1.4"/>
<ellipse cx="362.6" cy="572.0" rx="28.0" ry="15.2" transform="rotate(0.0 362.6 572.0)" fill="#fff" stroke="#1c2228" stroke-width="1.2"/>
<path d="M334.6 572.0 A28.0 15.2 0 0 1 390.6 572.0 A28.0 13.2 0 0 0 334.6 576.5 Z" fill="#a9c0cd" stroke="#1c2228" stroke-width="0.9" stroke-linejoin="round" stroke-linecap="round" />
<path d="M330.7 577.9 v6.0" fill="none" stroke="#1c2228" stroke-width="0.7" stroke-linejoin="round" stroke-linecap="round" />
<path d="M334.0 582.5 v6.0" fill="none" stroke="#1c2228" stroke-width="0.7" stroke-linejoin="round" stroke-linecap="round" />
<path d="M339.3 586.4 v6.0" fill="none" stroke="#1c2228" stroke-width="0.7" stroke-linejoin="round" stroke-linecap="round" />
<path d="M346.1 589.5 v6.0" fill="none" stroke="#1c2228" stroke-width="0.7" stroke-linejoin="round" stroke-linecap="round" />
<path d="M354.1 591.4 v6.0" fill="none" stroke="#1c2228" stroke-width="0.7" stroke-linejoin="round" stroke-linecap="round" />
<path d="M362.6 592.0 v6.0" fill="none" stroke="#1c2228" stroke-width="0.7" stroke-linejoin="round" stroke-linecap="round" />
<path d="M371.1 591.4 v6.0" fill="none" stroke="#1c2228" stroke-width="0.7" stroke-linejoin="round" stroke-linecap="round" />
<path d="M379.1 589.5 v6.0" fill="none" stroke="#1c2228" stroke-width="0.7" stroke-linejoin="round" stroke-linecap="round" />
<path d="M385.9 586.4 v6.0" fill="none" stroke="#1c2228" stroke-width="0.7" stroke-linejoin="round" stroke-linecap="round" />
<path d="M391.2 582.5 v6.0" fill="none" stroke="#1c2228" stroke-width="0.7" stroke-linejoin="round" stroke-linecap="round" />
<path d="M394.5 577.9 v6.0" fill="none" stroke="#1c2228" stroke-width="0.7" stroke-linejoin="round" stroke-linecap="round" />
<path d="M801.0 745.0 A33.0 17.0 0 0 1 867.0 745.0 L867.0 754.0 A33.0 17.0 0 0 1 801.0 754.0 Z" fill="#b3c7d3" stroke="#1c2228" stroke-width="1.5" stroke-linejoin="round" stroke-linecap="round" />
<ellipse cx="834.0" cy="745.0" rx="33.0" ry="17.0" transform="rotate(0.0 834.0 745.0)" fill="#d3dfe6" stroke="#1c2228" stroke-width="1.4"/>
<ellipse cx="834.0" cy="746.0" rx="28.0" ry="13.2" transform="rotate(0.0 834.0 746.0)" fill="#fff" stroke="#1c2228" stroke-width="1.2"/>
<path d="M806.0 746.0 A28.0 13.2 0 0 1 862.0 746.0 A28.0 11.2 0 0 0 806.0 750.5 Z" fill="#a9c0cd" stroke="#1c2228" stroke-width="0.9" stroke-linejoin="round" stroke-linecap="round" />
<path d="M802.1 751.4 v6.0" fill="none" stroke="#1c2228" stroke-width="0.7" stroke-linejoin="round" stroke-linecap="round" />
<path d="M805.4 755.5 v6.0" fill="none" stroke="#1c2228" stroke-width="0.7" stroke-linejoin="round" stroke-linecap="round" />
<path d="M810.7 759.0 v6.0" fill="none" stroke="#1c2228" stroke-width="0.7" stroke-linejoin="round" stroke-linecap="round" />
<path d="M817.5 761.7 v6.0" fill="none" stroke="#1c2228" stroke-width="0.7" stroke-linejoin="round" stroke-linecap="round" />
<path d="M825.5 763.4 v6.0" fill="none" stroke="#1c2228" stroke-width="0.7" stroke-linejoin="round" stroke-linecap="round" />
<path d="M834.0 764.0 v6.0" fill="none" stroke="#1c2228" stroke-width="0.7" stroke-linejoin="round" stroke-linecap="round" />
<path d="M842.5 763.4 v6.0" fill="none" stroke="#1c2228" stroke-width="0.7" stroke-linejoin="round" stroke-linecap="round" />
<path d="M850.5 761.7 v6.0" fill="none" stroke="#1c2228" stroke-width="0.7" stroke-linejoin="round" stroke-linecap="round" />
<path d="M857.3 759.0 v6.0" fill="none" stroke="#1c2228" stroke-width="0.7" stroke-linejoin="round" stroke-linecap="round" />
<path d="M862.6 755.5 v6.0" fill="none" stroke="#1c2228" stroke-width="0.7" stroke-linejoin="round" stroke-linecap="round" />
<path d="M865.9 751.4 v6.0" fill="none" stroke="#1c2228" stroke-width="0.7" stroke-linejoin="round" stroke-linecap="round" />
<polyline points="369.0,238.0 369.0,298.0" fill="none" stroke="#6d95ab" stroke-width="1.1" stroke-linejoin="miter"/>
<polyline points="835.0,530.0 835.0,592.0" fill="none" stroke="#6d95ab" stroke-width="1.1" stroke-linejoin="miter"/>
<polyline points="362.0,545.0 362.0,598.0" fill="none" stroke="#6d95ab" stroke-width="1.1" stroke-linejoin="miter"/>
<polyline points="834.0,712.0 834.0,790.0" fill="none" stroke="#6d95ab" stroke-width="1.1" stroke-linejoin="miter"/>
<path d="M590.8 601.7 C597.5 599.3 616.6 592.5 630.8 587.2 C645.0 581.9 664.0 572.4 676.0 570.0 C688.0 567.6 695.7 571.2 703.0 573.0 C710.3 574.8 710.0 574.2 720.0 581.0 C730.0 587.8 750.0 598.8 763.0 614.0 C776.0 629.2 790.3 657.7 798.0 672.0 C805.7 686.3 807.2 695.3 809.0 700.0" fill="none" stroke="#1c2228" stroke-width="5.5" stroke-linejoin="round" stroke-linecap="round" />
<path d="M590.8 601.7 C597.5 599.3 616.6 592.5 630.8 587.2 C645.0 581.9 664.0 572.4 676.0 570.0 C688.0 567.6 695.7 571.2 703.0 573.0 C710.3 574.8 710.0 574.2 720.0 581.0 C730.0 587.8 750.0 598.8 763.0 614.0 C776.0 629.2 790.3 657.7 798.0 672.0 C805.7 686.3 807.2 695.3 809.0 700.0" fill="none" stroke="#c9d8e0" stroke-width="2.1" stroke-linejoin="round" stroke-linecap="round" />
<path d="M585.0 598.0 C589.6 594.4 598.9 583.2 612.6 576.3 C626.3 569.3 653.4 559.3 667.0 556.3 C680.6 553.2 685.2 556.2 694.0 558.0 C702.8 559.8 707.5 559.0 720.0 567.0 C732.5 575.0 754.7 589.2 769.0 606.0 C783.3 622.8 798.2 652.8 806.0 668.0 C813.8 683.2 814.3 692.2 816.0 697.0" fill="none" stroke="#1c2228" stroke-width="5.5" stroke-linejoin="round" stroke-linecap="round" />
<path d="M585.0 598.0 C589.6 594.4 598.9 583.2 612.6 576.3 C626.3 569.3 653.4 559.3 667.0 556.3 C680.6 553.2 685.2 556.2 694.0 558.0 C702.8 559.8 707.5 559.0 720.0 567.0 C732.5 575.0 754.7 589.2 769.0 606.0 C783.3 622.8 798.2 652.8 806.0 668.0 C813.8 683.2 814.3 692.2 816.0 697.0" fill="none" stroke="#d3dfe6" stroke-width="2.1" stroke-linejoin="round" stroke-linecap="round" />
<path d="M555.0 596.0 C556.8 597.5 562.2 603.3 566.0 605.0 C569.8 606.7 574.3 606.8 578.0 606.0 C581.7 605.2 586.3 601.0 588.0 600.0" fill="none" stroke="#1c2228" stroke-width="5.5" stroke-linejoin="round" stroke-linecap="round" />
<path d="M555.0 596.0 C556.8 597.5 562.2 603.3 566.0 605.0 C569.8 606.7 574.3 606.8 578.0 606.0 C581.7 605.2 586.3 601.0 588.0 600.0" fill="none" stroke="#d3dfe6" stroke-width="2.1" stroke-linejoin="round" stroke-linecap="round" />
<ellipse cx="556.0" cy="597.0" rx="2.5" ry="3.0" transform="rotate(-30.0 556.0 597.0)" fill="#c9d8e0" stroke="#1c2228" stroke-width="1.0"/>
<path d="M566.0 588.0 C568.3 587.7 577.0 585.0 580.0 586.0 C583.0 587.0 584.2 591.3 584.0 594.0 C583.8 596.7 578.3 600.7 579.0 602.0 C579.7 603.3 586.5 602.0 588.0 602.0" fill="none" stroke="#1c2228" stroke-width="5.5" stroke-linejoin="round" stroke-linecap="round" />
<path d="M566.0 588.0 C568.3 587.7 577.0 585.0 580.0 586.0 C583.0 587.0 584.2 591.3 584.0 594.0 C583.8 596.7 578.3 600.7 579.0 602.0 C579.7 603.3 586.5 602.0 588.0 602.0" fill="none" stroke="#b9ccd7" stroke-width="2.1" stroke-linejoin="round" stroke-linecap="round" />
<path d="M564.0 583.0 L572.0 580.0 L575.0 586.0 L567.0 590.0Z" fill="#9fb8c6" stroke="#1c2228" stroke-width="1" stroke-linejoin="round" stroke-linecap="round" />
<path d="M818.0 629.0 L842.0 633.0 L842.0 650.0 L846.0 655.0 L845.0 680.0 L840.0 690.0 L842.0 700.0 L832.0 708.0 L818.0 712.0 L808.0 708.0 L805.0 690.0 L800.0 670.0 L805.0 645.0Z" fill="#5f8699" stroke="#1c2228" stroke-width="1.5" stroke-linejoin="round" stroke-linecap="round" />
<path d="M822.0 640.0 L836.0 643.0 L835.0 675.0 L820.0 672.0Z" fill="#7fa1b4" stroke="#1c2228" stroke-width="0.9" stroke-linejoin="round" stroke-linecap="round" />
<path d="M836.0 650.0 L844.0 652.0 L843.0 668.0 L836.0 667.0Z" fill="#a9c0cd" stroke="#1c2228" stroke-width="0.8" stroke-linejoin="round" stroke-linecap="round" />
<ellipse cx="819.0" cy="707.0" rx="4.0" ry="4.0" transform="rotate(0.0 819.0 707.0)" fill="#a9c0cd" stroke="#1c2228" stroke-width="1.0"/>
<ellipse cx="835.5" cy="612.0" rx="33.0" ry="20.5" transform="rotate(8.0 835.5 612.0)" fill="#c3d4de" stroke="#1c2228" stroke-width="1.6"/>
<ellipse cx="835.0" cy="610.0" rx="27.0" ry="15.0" transform="rotate(8.0 835.0 610.0)" fill="#d9e4ea" stroke="#1c2228" stroke-width="1.1"/>
<path d="M803 617 a33 20.5 8 0 0 64 8" fill="none" stroke="#1c2228" stroke-width="1" stroke-linejoin="round" stroke-linecap="round" />
<path d="M818.0 596.0 L830.0 594.0 L832.0 608.0 L820.0 610.0Z" fill="#a3bccb" stroke="#1c2228" stroke-width="0.9" stroke-linejoin="round" stroke-linecap="round" />
<path d="M837.0 600.0 L850.0 602.0 L848.0 622.0 L836.0 620.0Z" fill="#eef3f6" stroke="#1c2228" stroke-width="0.9" stroke-linejoin="round" stroke-linecap="round" />
<path d="M834.0 699.0 C834.3 701.2 829.7 707.7 836.0 712.0 C842.3 716.3 866.0 722.8 872.0 725.0" fill="none" stroke="#1c2228" stroke-width="2" stroke-linejoin="round" stroke-linecap="round" />
<path d="M872.0 713.0 L886.0 709.0 L892.0 713.0 L901.0 716.0 L900.0 726.0 L885.0 731.0 L872.0 727.0Z" fill="#a3bccb" stroke="#1c2228" stroke-width="1.5" stroke-linejoin="round" stroke-linecap="round" />
<path d="M220.6 535.5 C217.2 532.9 205.7 526.0 200.0 520.0 C194.3 514.0 188.1 504.9 186.4 499.2 C184.7 493.5 187.7 488.5 190.0 486.0 C192.3 483.5 197.8 482.8 200.5 484.0 C203.2 485.2 204.8 490.1 206.5 493.0 C208.2 495.9 207.5 501.0 210.6 501.2 C213.7 501.4 220.6 496.4 225.0 494.0 C229.4 491.6 234.2 486.2 236.8 487.1 C239.4 488.0 240.1 494.5 240.8 499.2 C241.5 503.9 241.8 510.6 240.8 515.3 C239.8 520.0 235.8 525.4 234.8 527.4" fill="none" stroke="#1c2228" stroke-width="4.8" stroke-linejoin="round" stroke-linecap="round" />
<path d="M220.6 535.5 C217.2 532.9 205.7 526.0 200.0 520.0 C194.3 514.0 188.1 504.9 186.4 499.2 C184.7 493.5 187.7 488.5 190.0 486.0 C192.3 483.5 197.8 482.8 200.5 484.0 C203.2 485.2 204.8 490.1 206.5 493.0 C208.2 495.9 207.5 501.0 210.6 501.2 C213.7 501.4 220.6 496.4 225.0 494.0 C229.4 491.6 234.2 486.2 236.8 487.1 C239.4 488.0 240.1 494.5 240.8 499.2 C241.5 503.9 241.8 510.6 240.8 515.3 C239.8 520.0 235.8 525.4 234.8 527.4" fill="none" stroke="#b8cbd6" stroke-width="1.4" stroke-linejoin="round" stroke-linecap="round" />
<path d="M176.0 544.0 C175.0 544.6 173.5 548.0 170.2 547.6 C166.9 547.2 159.1 538.5 156.1 541.5 C153.1 544.5 150.8 558.6 152.1 565.7 C153.4 572.8 162.8 577.5 164.2 583.9 C165.5 590.3 162.2 599.3 160.2 604.0 C158.2 608.7 153.4 610.7 152.0 612.0" fill="none" stroke="#1c2228" stroke-width="4.5" stroke-linejoin="round" stroke-linecap="round" />
<path d="M176.0 544.0 C175.0 544.6 173.5 548.0 170.2 547.6 C166.9 547.2 159.1 538.5 156.1 541.5 C153.1 544.5 150.8 558.6 152.1 565.7 C153.4 572.8 162.8 577.5 164.2 583.9 C165.5 590.3 162.2 599.3 160.2 604.0 C158.2 608.7 153.4 610.7 152.0 612.0" fill="none" stroke="#b8cbd6" stroke-width="1.2" stroke-linejoin="round" stroke-linecap="round" />
<g transform="translate(150 614) rotate(-30)"><rect x="-6" y="-4.5" width="11" height="9" rx="2" fill="#b5c9d4" stroke="#1c2228" stroke-width="1.3"/></g>
<path d="M171.2 607.0 L187.0 599.0 L274.0 574.0 L274.0 578.8 L198.5 623.2Z" fill="#a9c0cd" stroke="#1c2228" stroke-width="1.3" stroke-linejoin="round" stroke-linecap="round" />
<path d="M187.4 568.7 L259.0 534.5 L262.0 532.0 L265.0 536.0 L274.0 577.8 L197.5 620.2Z" fill="#557c90" stroke="#1c2228" stroke-width="1.6" stroke-linejoin="round" stroke-linecap="round" />
<path d="M200.0 572.0 L209.0 567.0 L210.0 597.0 L201.0 604.0Z" fill="#86a8ba" stroke="#1c2228" stroke-width="0.8" stroke-linejoin="round" stroke-linecap="round" />
<path d="M216.0 563.0 L224.0 558.0 L225.0 588.0 L217.0 595.0Z" fill="#86a8ba" stroke="#1c2228" stroke-width="0.8" stroke-linejoin="round" stroke-linecap="round" />
<path d="M227.0 557.0 L236.0 553.0 L237.0 583.0 L228.0 589.0Z" fill="#86a8ba" stroke="#1c2228" stroke-width="0.8" stroke-linejoin="round" stroke-linecap="round" />
<path d="M238.0 552.0 L245.0 549.0 L246.0 579.0 L239.0 584.0Z" fill="#86a8ba" stroke="#1c2228" stroke-width="0.8" stroke-linejoin="round" stroke-linecap="round" />
<path d="M249.0 547.0 L257.0 544.0 L258.0 566.0 L250.0 571.0Z" fill="#86a8ba" stroke="#1c2228" stroke-width="0.8" stroke-linejoin="round" stroke-linecap="round" />
<path d="M249.0 560.0 L257.0 557.0 L258.0 567.0 L250.0 570.0Z" fill="#86a8ba" stroke="#1c2228" stroke-width="0.8" stroke-linejoin="round" stroke-linecap="round" />
<path d="M186.0 580.0 L194.0 585.0 L196.0 605.0 L186.0 606.0Z" fill="#b9ccd7" stroke="#1c2228" stroke-width="1" stroke-linejoin="round" stroke-linecap="round" />
<path d="M177.7 537.6 L177.2 537.9 L176.8 538.4 L176.4 539.1 L176.2 539.9 L176.1 540.8 L176.1 541.9 L176.2 543.0 L176.4 544.3 L176.7 545.6 L177.1 546.9 L177.5 548.2 L178.1 549.5 L178.7 550.8 L179.4 552.1 L180.2 553.2 L181.0 554.3 L181.8 555.2 L182.6 556.0 L183.4 556.7 L184.2 557.2 L184.9 557.6 L185.7 557.8 L186.3 557.8 L186.9 557.6 L237.3 534.4 L237.8 534.1 L238.2 533.6 L238.6 532.9 L238.8 532.1 L238.9 531.2 L238.9 530.1 L238.8 529.0 L238.6 527.7 L238.3 526.4 L237.9 525.1 L237.5 523.8 L236.9 522.5 L236.3 521.2 L235.6 519.9 L234.8 518.8 L234.0 517.7 L233.2 516.8 L232.4 516.0 L231.6 515.3 L230.8 514.8 L230.1 514.4 L229.3 514.2 L228.7 514.2 L228.1 514.4Z" fill="#d3dfe6" stroke="#1c2228" stroke-width="1.4" stroke-linejoin="round" stroke-linecap="round" />
<ellipse cx="182.3" cy="547.6" rx="4.6" ry="11.0" transform="rotate(-25.0 182.3 547.6)" fill="#b3c7d3" stroke="#1c2228" stroke-width="1.2"/>
<ellipse cx="182.3" cy="547.6" rx="2.2" ry="5.0" transform="rotate(-25.0 182.3 547.6)" fill="#dfe8ed" stroke="#1c2228" stroke-width="0.8"/>
<path d="M198 530 l8 22 M205 527 l8 22" fill="none" stroke="#1c2228" stroke-width="0.9" stroke-linejoin="round" stroke-linecap="round" />
<path d="M210 540 L245 524" fill="none" stroke="#f3f7f9" stroke-width="3" stroke-linejoin="round" stroke-linecap="round" opacity="0.8"/>
<path d="M219.0 535.0 L232.0 529.0 L234.0 547.0 L221.0 553.0Z" fill="#b3c7d3" stroke="#1c2228" stroke-width="1" stroke-linejoin="round" stroke-linecap="round" />
<path d="M234.8 545.6 C237.8 546.6 246.9 552.3 252.9 551.6 C258.9 550.9 265.6 542.6 271.0 541.5 C276.4 540.4 281.3 543.0 285.0 545.0 C288.7 547.0 289.9 553.6 293.2 553.6 C296.5 553.6 301.0 548.4 305.0 545.0 C309.0 541.6 315.3 535.4 317.4 533.5" fill="none" stroke="#1c2228" stroke-width="4" stroke-linejoin="round" stroke-linecap="round" />
<path d="M234.8 545.6 C237.8 546.6 246.9 552.3 252.9 551.6 C258.9 550.9 265.6 542.6 271.0 541.5 C276.4 540.4 281.3 543.0 285.0 545.0 C288.7 547.0 289.9 553.6 293.2 553.6 C296.5 553.6 301.0 548.4 305.0 545.0 C309.0 541.6 315.3 535.4 317.4 533.5" fill="none" stroke="#9fb8c6" stroke-width="1.8" stroke-linejoin="round" stroke-linecap="round" />
<path d="M313.0 537.0 L322.0 529.0 L327.0 533.0 L318.0 541.0Z" fill="#dfe8ed" stroke="#1c2228" stroke-width="1.1" stroke-linejoin="round" stroke-linecap="round" />
<path d="M297 554 L299 640" fill="none" stroke="#1c2228" stroke-width="3.6" stroke-linejoin="round" stroke-linecap="round" />
<path d="M297 554 L299 640" fill="none" stroke="#b9ccd7" stroke-width="1.4" stroke-linejoin="round" stroke-linecap="round" />
<path d="M294 570 h7 v7 h-7Z" fill="#dfe8ed" stroke="#1c2228" stroke-width="0.9" stroke-linejoin="round" stroke-linecap="round" />
<polyline points="226.0,567.0 291.0,605.5" fill="none" stroke="#a9c4d3" stroke-width="1.3" stroke-linejoin="miter"/>
<path d="M288.4 669.8 v5 A10 6 0 0 0 308.4 674.8 v-5" fill="#b3c7d3" stroke="#1c2228" stroke-width="1.3" stroke-linejoin="round" stroke-linecap="round" />
<ellipse cx="298.4" cy="669.8" rx="10.0" ry="6.0" transform="rotate(0.0 298.4 669.8)" fill="#dfe8ed" stroke="#1c2228" stroke-width="1.4"/>
<ellipse cx="298.4" cy="670.3" rx="7.0" ry="3.8" transform="rotate(0.0 298.4 670.3)" fill="#fff" stroke="#1c2228" stroke-width="1.0"/>
<path d="M305.0 668.8 l5 2 l0 5 l-4 -1Z" fill="#fff" stroke="#1c2228" stroke-width="1" stroke-linejoin="round" stroke-linecap="round" />
<path d="M288.4 702.4 v5 A10 6 0 0 0 308.4 707.4 v-5" fill="#b3c7d3" stroke="#1c2228" stroke-width="1.3" stroke-linejoin="round" stroke-linecap="round" />
<ellipse cx="298.4" cy="702.4" rx="10.0" ry="6.0" transform="rotate(0.0 298.4 702.4)" fill="#dfe8ed" stroke="#1c2228" stroke-width="1.4"/>
<ellipse cx="298.4" cy="702.9" rx="7.0" ry="3.8" transform="rotate(0.0 298.4 702.9)" fill="#fff" stroke="#1c2228" stroke-width="1.0"/>
<path d="M305.0 701.4 l5 2 l0 5 l-4 -1Z" fill="#fff" stroke="#1c2228" stroke-width="1" stroke-linejoin="round" stroke-linecap="round" />
<polyline points="298.0,650.0 298.0,664.0" fill="none" stroke="#6d95ab" stroke-width="1" stroke-linejoin="miter"/>
<polyline points="298.0,680.0 298.0,697.0" fill="none" stroke="#6d95ab" stroke-width="1" stroke-linejoin="miter"/>
<path d="M120.5 875.2 L206.9 823.4" fill="none" stroke="#1c2228" stroke-width="5.0" stroke-linejoin="round" stroke-linecap="round" />
<path d="M120.5 875.2 L188.0 834.7" fill="none" stroke="#c7d7e0" stroke-width="2.6" stroke-linejoin="round" stroke-linecap="round" />
<path d="M188.0 834.7 L206.9 823.4" fill="none" stroke="#1c2228" stroke-width="7.0" stroke-linejoin="round" stroke-linecap="round" stroke-linecap="butt"/>
<path d="M188.0 834.7 L205.9 824.0" fill="none" stroke="#e3ebf0" stroke-width="4.6" stroke-linejoin="round" stroke-linecap="round" stroke-linecap="butt"/>
<ellipse cx="192.7" cy="831.9" rx="2.2" ry="3.4" transform="rotate(-30.9 192.7 831.9)" fill="#c7d7e0" stroke="#1c2228" stroke-width="0.9"/>
<ellipse cx="196.5" cy="829.6" rx="2.2" ry="3.4" transform="rotate(-30.9 196.5 829.6)" fill="#c7d7e0" stroke="#1c2228" stroke-width="0.9"/>
<ellipse cx="121.8" cy="874.4" rx="1.5" ry="2.3" transform="rotate(-30.9 121.8 874.4)" fill="#c7d7e0" stroke="#1c2228" stroke-width="1.0"/>
<path d="M132.3 883.0 L221.4 831.9" fill="none" stroke="#1c2228" stroke-width="6.199999999999999" stroke-linejoin="round" stroke-linecap="round" />
<path d="M132.3 883.0 L202.3 842.8" fill="none" stroke="#c7d7e0" stroke-width="3.8" stroke-linejoin="round" stroke-linecap="round" />
<path d="M202.3 842.8 L221.4 831.9" fill="none" stroke="#1c2228" stroke-width="8.8" stroke-linejoin="round" stroke-linecap="round" stroke-linecap="butt"/>
<path d="M202.3 842.8 L220.4 832.5" fill="none" stroke="#e3ebf0" stroke-width="6.4" stroke-linejoin="round" stroke-linecap="round" stroke-linecap="butt"/>
<ellipse cx="207.1" cy="840.1" rx="2.2" ry="4.8" transform="rotate(-29.8 207.1 840.1)" fill="#c7d7e0" stroke="#1c2228" stroke-width="0.9"/>
<ellipse cx="210.9" cy="837.9" rx="2.2" ry="4.8" transform="rotate(-29.8 210.9 837.9)" fill="#c7d7e0" stroke="#1c2228" stroke-width="0.9"/>
<ellipse cx="133.6" cy="882.3" rx="1.5" ry="3.4" transform="rotate(-29.8 133.6 882.3)" fill="#c7d7e0" stroke="#1c2228" stroke-width="1.0"/>
<path d="M146.0 891.5 L234.5 841.7" fill="none" stroke="#1c2228" stroke-width="6.199999999999999" stroke-linejoin="round" stroke-linecap="round" />
<path d="M146.0 891.5 L215.3 852.5" fill="none" stroke="#c7d7e0" stroke-width="3.8" stroke-linejoin="round" stroke-linecap="round" />
<path d="M215.3 852.5 L234.5 841.7" fill="none" stroke="#1c2228" stroke-width="8.8" stroke-linejoin="round" stroke-linecap="round" stroke-linecap="butt"/>
<path d="M215.3 852.5 L233.5 842.3" fill="none" stroke="#e3ebf0" stroke-width="6.4" stroke-linejoin="round" stroke-linecap="round" stroke-linecap="butt"/>
<ellipse cx="220.1" cy="849.8" rx="2.2" ry="4.8" transform="rotate(-29.4 220.1 849.8)" fill="#c7d7e0" stroke="#1c2228" stroke-width="0.9"/>
<ellipse cx="224.0" cy="847.6" rx="2.2" ry="4.8" transform="rotate(-29.4 224.0 847.6)" fill="#c7d7e0" stroke="#1c2228" stroke-width="0.9"/>
<ellipse cx="147.3" cy="890.8" rx="1.5" ry="3.4" transform="rotate(-29.4 147.3 890.8)" fill="#c7d7e0" stroke="#1c2228" stroke-width="1.0"/>
<path d="M136.2 911.8 L153.2 902.7 L201.7 919.7 L201.7 928.9 L176.8 945.9 L137.5 924.9Z" fill="#c9d8e0" stroke="#1c2228" stroke-width="1.6" stroke-linejoin="round" stroke-linecap="round" />
<path d="M136.2 911.8 L153.2 902.7 L155.0 912.0 L138.0 921.0Z" fill="#5e8599" stroke="#1c2228" stroke-width="1.1" stroke-linejoin="round" stroke-linecap="round" />
<path d="M176.8 935.0 L201.7 921.0 L201.7 928.9 L176.8 945.9Z" fill="#5e8599" stroke="#1c2228" stroke-width="1.1" stroke-linejoin="round" stroke-linecap="round" />
<path d="M155.0 905.0 L160.0 901.0 L166.0 904.0 L162.0 912.0 L170.0 908.0 L176.0 911.0 L172.0 920.0 L182.0 916.0 L188.0 919.0 L184.0 928.0 L194.0 923.0 L200.0 921.0 L200.0 929.0 L186.0 936.0 L160.0 916.0Z" fill="#dfe8ed" stroke="#1c2228" stroke-width="1" stroke-linejoin="round" stroke-linecap="round" />
<path d="M162.0 912.0 L170.0 908.0 L172.0 920.0 L165.0 918.0Z" fill="#6f95aa" stroke="#1c2228" stroke-width="0.8" stroke-linejoin="round" stroke-linecap="round" />
<path d="M172.0 920.0 L182.0 916.0 L184.0 928.0 L176.0 926.0Z" fill="#6f95aa" stroke="#1c2228" stroke-width="0.8" stroke-linejoin="round" stroke-linecap="round" />
<ellipse cx="166.3" cy="927.6" rx="5.0" ry="2.5" transform="rotate(-20.0 166.3 927.6)" fill="#e6eef2" stroke="#1c2228" stroke-width="1.0"/>
<path d="M346.1 908.8 L363.3 917.7 L373.3 912.1 L374.4 903.3 L375.5 892.2 L409.8 911.0 L409.8 914.4 L375.5 927.7Z" fill="#d3dfe6" stroke="#1c2228" stroke-width="1.5" stroke-linejoin="round" stroke-linecap="round" />
<path d="M376.0 895.0 L408.0 912.0 L404.0 914.0 L376.0 899.0Z" fill="#9db7c6" stroke="#1c2228" stroke-width="0.8" stroke-linejoin="round" stroke-linecap="round" />
<path d="M343.9 909.9 L346.1 908.8 L375.5 927.7 L375.5 946.5 L343.9 926.6Z" fill="#6b90a4" stroke="#1c2228" stroke-width="1.6" stroke-linejoin="round" stroke-linecap="round" />
<path d="M375.5 927.7 L409.8 914.4 L418.7 921.0 L418.7 932.1 L392.1 946.5 L383.2 942.1 L375.5 946.5Z" fill="#d9e4ea" stroke="#1c2228" stroke-width="1.5" stroke-linejoin="round" stroke-linecap="round" />
<path d="M383.2 933.0 L412.0 921.0 L418.0 925.0 L392.1 938.0Z" fill="#eef3f6" stroke="#1c2228" stroke-width="0.9" stroke-linejoin="round" stroke-linecap="round" />
<path d="M383.2 933.0 L392.1 938.0 L392.1 946.5 L383.2 942.1Z" fill="#a9c0cd" stroke="#1c2228" stroke-width="0.9" stroke-linejoin="round" stroke-linecap="round" />
<ellipse cx="401.0" cy="925.0" rx="1.5" ry="1.2" transform="rotate(0.0 401.0 925.0)" fill="#555" stroke="#1c2228" stroke-width="0.6"/>
<path d="M295.2 888.5 a8 4 0 1 0 16 0 a8 4 0 1 0 -16 0Z" fill="#d3dfe6" stroke="#1c2228" stroke-width="1.3" stroke-linejoin="round" stroke-linecap="round" />
<path d="M298.7 890.5 v9 a4.5 2.5 0 0 0 9 0 v-9" fill="#b3c7d2" stroke="#1c2228" stroke-width="1.2" stroke-linejoin="round" stroke-linecap="round" />
<ellipse cx="303.2" cy="888.5" rx="3.5" ry="1.8" fill="#fff" stroke="#1c2228" stroke-width="0.8"/>
<path d="M295.2 911.7 v10 a8 4 0 0 0 16 0 v-10" fill="#9bb5c4" stroke="#1c2228" stroke-width="1.4" stroke-linejoin="round" stroke-linecap="round" />
<ellipse cx="303.2" cy="911.7" rx="8" ry="4" fill="#c3d4de" stroke="#1c2228" stroke-width="1.3"/>
<ellipse cx="303.2" cy="911.7" rx="3" ry="1.6" fill="#fff" stroke="#1c2228" stroke-width="0.8"/>
<path d="M295.2 916.7 a8 4 0 0 0 16 0" fill="none" stroke="#1c2228" stroke-width="0.9" stroke-linejoin="round" stroke-linecap="round" />
<path d="M641.5 1208.0 a8 4 0 1 0 16 0 a8 4 0 1 0 -16 0Z" fill="#d3dfe6" stroke="#1c2228" stroke-width="1.3" stroke-linejoin="round" stroke-linecap="round" />
<path d="M645.0 1210.0 v9 a4.5 2.5 0 0 0 9 0 v-9" fill="#b3c7d2" stroke="#1c2228" stroke-width="1.2" stroke-linejoin="round" stroke-linecap="round" />
<ellipse cx="649.5" cy="1208.0" rx="3.5" ry="1.8" fill="#fff" stroke="#1c2228" stroke-width="0.8"/>
<path d="M641.5 1230.0 v10 a8 4 0 0 0 16 0 v-10" fill="#9bb5c4" stroke="#1c2228" stroke-width="1.4" stroke-linejoin="round" stroke-linecap="round" />
<ellipse cx="649.5" cy="1230.0" rx="8" ry="4" fill="#c3d4de" stroke="#1c2228" stroke-width="1.3"/>
<ellipse cx="649.5" cy="1230.0" rx="3" ry="1.6" fill="#fff" stroke="#1c2228" stroke-width="0.8"/>
<path d="M641.5 1235.0 a8 4 0 0 0 16 0" fill="none" stroke="#1c2228" stroke-width="0.9" stroke-linejoin="round" stroke-linecap="round" />
<path d="M666.3 741.8 a8 4 0 1 0 16 0 a8 4 0 1 0 -16 0Z" fill="#d3dfe6" stroke="#1c2228" stroke-width="1.3" stroke-linejoin="round" stroke-linecap="round" />
<path d="M669.8 743.8 v9 a4.5 2.5 0 0 0 9 0 v-9" fill="#b3c7d2" stroke="#1c2228" stroke-width="1.2" stroke-linejoin="round" stroke-linecap="round" />
<ellipse cx="674.3" cy="741.8" rx="3.5" ry="1.8" fill="#fff" stroke="#1c2228" stroke-width="0.8"/>
<path d="M666.3 765.0 v10 a8 4 0 0 0 16 0 v-10" fill="#9bb5c4" stroke="#1c2228" stroke-width="1.4" stroke-linejoin="round" stroke-linecap="round" />
<ellipse cx="674.3" cy="765.0" rx="8" ry="4" fill="#c3d4de" stroke="#1c2228" stroke-width="1.3"/>
<ellipse cx="674.3" cy="765.0" rx="3" ry="1.6" fill="#fff" stroke="#1c2228" stroke-width="0.8"/>
<path d="M666.3 770.0 a8 4 0 0 0 16 0" fill="none" stroke="#1c2228" stroke-width="0.9" stroke-linejoin="round" stroke-linecap="round" />
<path d="M287.8 996.0 L287.8 983.0 L291.0 976.0 L294.2 983.0 L294.2 996.0 Z" fill="#d3dfe6" stroke="#1c2228" stroke-width="1.2" stroke-linejoin="round" stroke-linecap="round" />
<path d="M287.8 984.0 l6.4 -2" fill="none" stroke="#1c2228" stroke-width="0.8" stroke-linejoin="round" stroke-linecap="round" />
<path d="M287.8 988.2 l6.4 -2" fill="none" stroke="#1c2228" stroke-width="0.8" stroke-linejoin="round" stroke-linecap="round" />
<path d="M287.8 992.4 l6.4 -2" fill="none" stroke="#1c2228" stroke-width="0.8" stroke-linejoin="round" stroke-linecap="round" />
<path d="M287.8 996.6 l6.4 -2" fill="none" stroke="#1c2228" stroke-width="0.8" stroke-linejoin="round" stroke-linecap="round" />
<path d="M284.5 996.0 h13 v5 l-3 3 h-7 l-3 -3Z" fill="#9bb5c4" stroke="#1c2228" stroke-width="1.3" stroke-linejoin="round" stroke-linecap="round" />
<ellipse cx="291.0" cy="996.0" rx="6.5" ry="2.5" transform="rotate(0.0 291.0 996.0)" fill="#c3d4de" stroke="#1c2228" stroke-width="1.1"/>
<path d="M631.8 1320.0 L631.8 1306.0 L635.0 1299.0 L638.2 1306.0 L638.2 1320.0 Z" fill="#d3dfe6" stroke="#1c2228" stroke-width="1.2" stroke-linejoin="round" stroke-linecap="round" />
<path d="M631.8 1307.0 l6.4 -2" fill="none" stroke="#1c2228" stroke-width="0.8" stroke-linejoin="round" stroke-linecap="round" />
<path d="M631.8 1311.2 l6.4 -2" fill="none" stroke="#1c2228" stroke-width="0.8" stroke-linejoin="round" stroke-linecap="round" />
<path d="M631.8 1315.4 l6.4 -2" fill="none" stroke="#1c2228" stroke-width="0.8" stroke-linejoin="round" stroke-linecap="round" />
<path d="M631.8 1319.6 l6.4 -2" fill="none" stroke="#1c2228" stroke-width="0.8" stroke-linejoin="round" stroke-linecap="round" />
<path d="M628.5 1320.0 h13 v5 l-3 3 h-7 l-3 -3Z" fill="#9bb5c4" stroke="#1c2228" stroke-width="1.3" stroke-linejoin="round" stroke-linecap="round" />
<ellipse cx="635.0" cy="1320.0" rx="6.5" ry="2.5" transform="rotate(0.0 635.0 1320.0)" fill="#c3d4de" stroke="#1c2228" stroke-width="1.1"/>
<path d="M736.8 800.0 L736.8 787.0 L740.0 780.0 L743.2 787.0 L743.2 800.0 Z" fill="#d3dfe6" stroke="#1c2228" stroke-width="1.2" stroke-linejoin="round" stroke-linecap="round" />
<path d="M736.8 788.0 l6.4 -2" fill="none" stroke="#1c2228" stroke-width="0.8" stroke-linejoin="round" stroke-linecap="round" />
<path d="M736.8 792.2 l6.4 -2" fill="none" stroke="#1c2228" stroke-width="0.8" stroke-linejoin="round" stroke-linecap="round" />
<path d="M736.8 796.4 l6.4 -2" fill="none" stroke="#1c2228" stroke-width="0.8" stroke-linejoin="round" stroke-linecap="round" />
<path d="M736.8 800.6 l6.4 -2" fill="none" stroke="#1c2228" stroke-width="0.8" stroke-linejoin="round" stroke-linecap="round" />
<path d="M733.5 800.0 h13 v5 l-3 3 h-7 l-3 -3Z" fill="#9bb5c4" stroke="#1c2228" stroke-width="1.3" stroke-linejoin="round" stroke-linecap="round" />
<ellipse cx="740.0" cy="800.0" rx="6.5" ry="2.5" transform="rotate(0.0 740.0 800.0)" fill="#c3d4de" stroke="#1c2228" stroke-width="1.1"/>
<polyline points="303.0,897.0 303.0,910.0" fill="none" stroke="#6d95ab" stroke-width="1" stroke-linejoin="miter"/>
<polyline points="303.0,922.0 303.0,934.0" fill="none" stroke="#6d95ab" stroke-width="1" stroke-linejoin="miter"/>
<polyline points="649.5,1217.0 649.5,1228.0" fill="none" stroke="#6d95ab" stroke-width="1" stroke-linejoin="miter"/>
<polyline points="649.5,1240.0 649.5,1252.0" fill="none" stroke="#6d95ab" stroke-width="1" stroke-linejoin="miter"/>
<polyline points="674.3,750.0 674.3,764.0" fill="none" stroke="#6d95ab" stroke-width="1" stroke-linejoin="miter"/>
<polyline points="674.3,775.0 674.3,810.0" fill="none" stroke="#6d95ab" stroke-width="1" stroke-linejoin="miter"/>
<polyline points="303.0,940.0 303.0,955.0 291.0,968.0 291.0,976.0" fill="none" stroke="#6d95ab" stroke-width="1.15" stroke-dasharray="28 3 3 3"/>
<polyline points="649.0,1258.0 649.0,1275.0 637.0,1292.0 637.0,1299.0" fill="none" stroke="#6d95ab" stroke-width="1.15" stroke-dasharray="28 3 3 3"/>
<path d="M581 762 v16 a8 4 0 0 0 16 0 v-16Z" fill="#b8cbd6" stroke="#1c2228" stroke-width="1.4" stroke-linejoin="round" stroke-linecap="round" />
<path d="M584 758 v5 a5 3 0 0 0 10 0 v-5Z" fill="#c9d8e0" stroke="#1c2228" stroke-width="1.2" stroke-linejoin="round" stroke-linecap="round" />
<ellipse cx="589" cy="758" rx="5" ry="2.5" fill="#e6eef2" stroke="#1c2228" stroke-width="1.1"/>
<polyline points="530.0,728.0 577.0,760.0" fill="none" stroke="#6d95ab" stroke-width="1" stroke-linejoin="miter"/>
<polyline points="493.0,77.3 506.0,88.2 506.0,141.7 519.8,152.6 506.0,162.6 506.0,216.1 493.0,227.9" fill="none" stroke="#111" stroke-width="1.1" stroke-linejoin="miter"/>
<polyline points="426.8,102.3 489.8,102.3" fill="none" stroke="#111" stroke-width="1.15" stroke-linejoin="miter"/>
<polyline points="446.2,166.2 501.6,166.2" fill="none" stroke="#111" stroke-width="1.15" stroke-linejoin="miter"/>
<polyline points="468.9,205.2 488.9,205.2" fill="none" stroke="#111" stroke-width="1.15" stroke-linejoin="miter"/>
<polyline points="504.0,250.3 527.9,250.3" fill="none" stroke="#111" stroke-width="1.15" stroke-linejoin="miter"/>
<polyline points="611.0,240.0 611.0,249.6" fill="none" stroke="#111" stroke-width="1.15" stroke-linejoin="miter"/>
<polyline points="405.0,254.0 423.0,254.0" fill="none" stroke="#111" stroke-width="1.15" stroke-linejoin="miter"/>
<polyline points="247.0,356.0 247.0,365.0" fill="none" stroke="#111" stroke-width="1.15" stroke-linejoin="miter"/>
<polyline points="258.6,379.8 258.6,396.0" fill="none" stroke="#111" stroke-width="1.15" stroke-linejoin="miter"/>
<polyline points="488.5,398.0 488.5,420.0" fill="none" stroke="#111" stroke-width="1.15" stroke-linejoin="miter"/>
<polyline points="400.8,460.2 422.5,460.2" fill="none" stroke="#111" stroke-width="1.15" stroke-linejoin="miter"/>
<polyline points="400.2,570.6 415.6,570.6" fill="none" stroke="#111" stroke-width="1.15" stroke-linejoin="miter"/>
<polyline points="876.7,545.0 894.8,545.0" fill="none" stroke="#111" stroke-width="1.15" stroke-linejoin="miter"/>
<polyline points="846.4,656.3 865.8,656.3" fill="none" stroke="#111" stroke-width="1.15" stroke-linejoin="miter"/>
<polyline points="870.6,745.8 890.8,745.8" fill="none" stroke="#111" stroke-width="1.15" stroke-linejoin="miter"/>
<polyline points="219.7,629.7 207.6,640.5 207.6,661.1 195.5,672.0 207.6,681.7 207.6,709.5 216.1,719.2" fill="none" stroke="#111" stroke-width="1.1" stroke-linejoin="miter"/>
<polyline points="210.0,643.0 231.8,643.0 231.8,606.7" fill="none" stroke="#111" stroke-width="1.15" stroke-linejoin="miter"/>
<polyline points="239.0,669.6 288.7,669.6" fill="none" stroke="#111" stroke-width="1.15" stroke-linejoin="miter"/>
<polyline points="239.0,701.7 288.7,701.7" fill="none" stroke="#111" stroke-width="1.15" stroke-linejoin="miter"/>
<polyline points="685.2,743.8 703.3,743.8" fill="none" stroke="#111" stroke-width="1.15" stroke-linejoin="miter"/>
<polyline points="685.2,770.0 703.3,770.0" fill="none" stroke="#111" stroke-width="1.15" stroke-linejoin="miter"/>
<polyline points="600.5,768.0 622.7,768.0" fill="none" stroke="#111" stroke-width="1.15" stroke-linejoin="miter"/>
<polyline points="746.0,790.0 759.0,783.0" fill="none" stroke="#111" stroke-width="1.15" stroke-linejoin="miter"/>
<polyline points="118.1,828.4 130.2,816.3 139.9,816.3 148.4,805.4 156.8,816.3 168.9,816.3 178.6,828.4" fill="none" stroke="#111" stroke-width="1.1" stroke-linejoin="miter"/>
<polyline points="130.2,816.3 130.2,864.7" fill="none" stroke="#111" stroke-width="1.15" stroke-linejoin="miter"/>
<polyline points="145.5,823.5 145.5,871.9" fill="none" stroke="#6d95ab" stroke-width="1.15" stroke-linejoin="miter"/>
<polyline points="163.4,823.5 163.4,876.8" fill="none" stroke="#6d95ab" stroke-width="1.15" stroke-linejoin="miter"/>
<polyline points="162.4,939.7 162.4,957.8" fill="none" stroke="#111" stroke-width="1.15" stroke-linejoin="miter"/>
<polyline points="262.0,868.3 250.5,878.0 250.5,901.0 239.1,910.6 250.5,919.1 250.5,939.7 262.0,951.7" fill="none" stroke="#111" stroke-width="1.1" stroke-linejoin="miter"/>
<polyline points="277.8,889.3 296.0,889.3" fill="none" stroke="#111" stroke-width="1.15" stroke-linejoin="miter"/>
<polyline points="277.8,914.3 296.0,914.3" fill="none" stroke="#111" stroke-width="1.15" stroke-linejoin="miter"/>
<polyline points="253.6,939.2 291.1,939.2" fill="none" stroke="#111" stroke-width="1.15" stroke-linejoin="miter"/>
<polyline points="266.9,985.1 286.3,985.1" fill="none" stroke="#111" stroke-width="1.15" stroke-linejoin="miter"/>
<polyline points="435.4,912.2 412.0,912.2" fill="none" stroke="#111" stroke-width="1.15" stroke-linejoin="miter"/>
<polyline points="839.6,937.2 839.6,1020.9" fill="none" stroke="#111" stroke-width="1.15" stroke-linejoin="miter"/>
<polyline points="755.3,1012.9 766.6,1025.0 815.8,1025.0 822.3,1037.1 832.7,1025.0 879.5,1025.0 890.8,1012.9" fill="none" stroke="#111" stroke-width="1.1" stroke-linejoin="miter"/>
<polyline points="310.8,1174.0 310.8,1192.7" fill="none" stroke="#111" stroke-width="1.15" stroke-linejoin="miter"/>
<polyline points="366.0,1192.0 366.0,1213.6" fill="none" stroke="#111" stroke-width="1.15" stroke-linejoin="miter"/>
<polyline points="607.2,1189.0 596.3,1197.6 596.3,1219.3 584.2,1231.4 596.3,1241.0 596.3,1262.9 607.2,1272.5" fill="none" stroke="#111" stroke-width="1.1" stroke-linejoin="miter"/>
<polyline points="622.9,1210.9 641.0,1210.9" fill="none" stroke="#111" stroke-width="1.15" stroke-linejoin="miter"/>
<polyline points="622.9,1236.3 641.0,1236.3" fill="none" stroke="#111" stroke-width="1.15" stroke-linejoin="miter"/>
<polyline points="600.0,1260.5 635.0,1260.5" fill="none" stroke="#111" stroke-width="1.15" stroke-linejoin="miter"/>
<polyline points="614.4,1308.4 631.4,1308.4" fill="none" stroke="#111" stroke-width="1.15" stroke-linejoin="miter"/>
<text x="490.6" y="123.3" font-size="20">7</text>
<text x="523.1" y="174.5" font-size="20">5</text>
<text x="491.1" y="223.2" font-size="20">6</text>
<text x="525.6" y="270.4" font-size="20">17</text>
<text x="599.1" y="240.8" font-size="20">20</text>
<text x="428.1" y="277.0" font-size="20">22</text>
<text x="239.6" y="358.7" font-size="20">3</text>
<text x="252.1" y="429.4" font-size="20">2</text>
<text x="477.6" y="451.4" font-size="20">21</text>
<text x="422.1" y="480.5" font-size="20">23</text>
<text x="417.6" y="588.5" font-size="20">25</text>
<text x="896.6" y="561.0" font-size="20">22</text>
<text x="866.6" y="671.9" font-size="20">24</text>
<text x="892.6" y="766.7" font-size="20">25</text>
<text x="177.1" y="693.2" font-size="20">4</text>
<text x="212.1" y="690.8" font-size="20">31</text>
<text x="212.1" y="722.3" font-size="20">32</text>
<text x="701.1" y="765.8" font-size="20">13</text>
<text x="701.1" y="790.0" font-size="20">14</text>
<text x="624.6" y="790.0" font-size="20">30</text>
<text x="759.1" y="802.5" font-size="20">12</text>
<text x="137.1" y="812.1" font-size="20">27</text>
<text x="209.6" y="931.9" font-size="20">10</text>
<text x="249.6" y="911.3" font-size="20">15</text>
<text x="249.6" y="935.5" font-size="20">16</text>
<text x="438.1" y="934.1" font-size="20">26</text>
<text x="151.6" y="991.2" font-size="20">28</text>
<text x="239.6" y="1006.9" font-size="20">12</text>
<text x="768.1" y="1034.3" font-size="20">17</text>
<text x="805.1" y="1034.3" font-size="20">20</text>
<text x="853.1" y="1034.3" font-size="20">30</text>
<text x="817.6" y="1070.9" font-size="20">1</text>
<text x="304.6" y="1225.7" font-size="20">8</text>
<text x="360.1" y="1244.4" font-size="20">9</text>
<text x="554.6" y="1251.4" font-size="20">11</text>
<text x="596.1" y="1232.1" font-size="20">15</text>
<text x="596.1" y="1257.5" font-size="20">16</text>
<text x="585.1" y="1327.7" font-size="20">12</text>
</svg>
<div class="foot">Diagrams provided by catalogs parts</div>
</body></html>
